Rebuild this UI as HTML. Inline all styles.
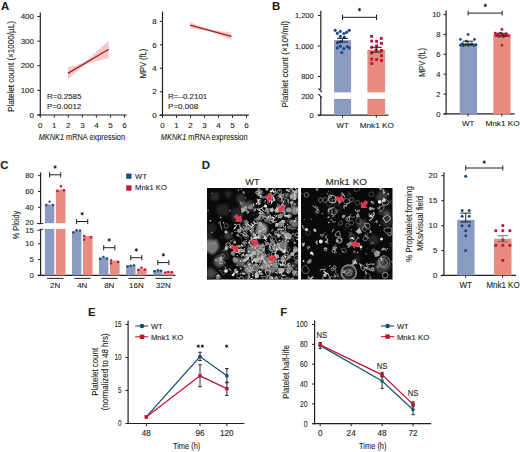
<!DOCTYPE html>
<html><head><meta charset="utf-8"><style>
html,body{margin:0;padding:0;background:#fff;}
body{width:520px;height:452px;overflow:hidden;}
svg{display:block;font-family:"Liberation Sans", sans-serif;}
text{stroke:#2a2a2a;stroke-width:0.12px;}
</style></head><body>
<svg width="520" height="452" viewBox="0 0 520 452">
<rect width="520" height="452" fill="#fff"/>
<text x="0.90" y="9.64" font-size="11.4" text-anchor="start" fill="#231f20" font-weight="bold">A</text>
<line x1="40.30" y1="12.50" x2="40.30" y2="115.45" stroke="#231f20" stroke-width="1.2"/>
<line x1="37.30" y1="115.00" x2="126.80" y2="115.00" stroke="#231f20" stroke-width="1.2"/>
<line x1="37.30" y1="115.00" x2="40.30" y2="115.00" stroke="#231f20" stroke-width="1.0"/>
<text x="34.00" y="117.55" font-size="8.0" text-anchor="end" fill="#231f20">0</text>
<line x1="37.30" y1="90.37" x2="40.30" y2="90.37" stroke="#231f20" stroke-width="1.0"/>
<text x="34.00" y="92.92" font-size="8.0" text-anchor="end" fill="#231f20">100</text>
<line x1="37.30" y1="65.74" x2="40.30" y2="65.74" stroke="#231f20" stroke-width="1.0"/>
<text x="34.00" y="68.29" font-size="8.0" text-anchor="end" fill="#231f20">200</text>
<line x1="37.30" y1="41.11" x2="40.30" y2="41.11" stroke="#231f20" stroke-width="1.0"/>
<text x="34.00" y="43.66" font-size="8.0" text-anchor="end" fill="#231f20">300</text>
<line x1="37.30" y1="16.48" x2="40.30" y2="16.48" stroke="#231f20" stroke-width="1.0"/>
<text x="34.00" y="19.03" font-size="8.0" text-anchor="end" fill="#231f20">400</text>
<line x1="40.30" y1="115.00" x2="40.30" y2="117.60" stroke="#231f20" stroke-width="1.0"/>
<text x="40.30" y="127.50" font-size="8.0" text-anchor="middle" fill="#231f20">0</text>
<line x1="54.32" y1="115.00" x2="54.32" y2="117.60" stroke="#231f20" stroke-width="1.0"/>
<text x="54.32" y="127.50" font-size="8.0" text-anchor="middle" fill="#231f20">1</text>
<line x1="68.34" y1="115.00" x2="68.34" y2="117.60" stroke="#231f20" stroke-width="1.0"/>
<text x="68.34" y="127.50" font-size="8.0" text-anchor="middle" fill="#231f20">2</text>
<line x1="82.36" y1="115.00" x2="82.36" y2="117.60" stroke="#231f20" stroke-width="1.0"/>
<text x="82.36" y="127.50" font-size="8.0" text-anchor="middle" fill="#231f20">3</text>
<line x1="96.38" y1="115.00" x2="96.38" y2="117.60" stroke="#231f20" stroke-width="1.0"/>
<text x="96.38" y="127.50" font-size="8.0" text-anchor="middle" fill="#231f20">4</text>
<line x1="110.40" y1="115.00" x2="110.40" y2="117.60" stroke="#231f20" stroke-width="1.0"/>
<text x="110.40" y="127.50" font-size="8.0" text-anchor="middle" fill="#231f20">5</text>
<line x1="124.42" y1="115.00" x2="124.42" y2="117.60" stroke="#231f20" stroke-width="1.0"/>
<text x="124.42" y="127.50" font-size="8.0" text-anchor="middle" fill="#231f20">6</text>
<path d="M67.90,67.45 L69.60,67.01 L71.30,66.56 L73.00,66.11 L74.70,65.63 L76.40,65.14 L78.10,64.61 L79.80,64.02 L81.50,63.35 L83.20,62.54 L84.90,61.54 L86.60,60.35 L88.30,59.03 L90.00,57.61 L91.70,56.13 L93.40,54.62 L95.10,53.08 L96.80,51.53 L98.50,49.97 L100.20,48.41 L101.90,46.83 L103.60,45.25 L105.30,43.67 L107.00,42.09 L108.70,40.50 L108.70,58.10 L107.00,58.52 L105.30,58.94 L103.60,59.37 L101.90,59.80 L100.20,60.24 L98.50,60.68 L96.80,61.12 L95.10,61.58 L93.40,62.06 L91.70,62.55 L90.00,63.09 L88.30,63.67 L86.60,64.36 L84.90,65.18 L83.20,66.19 L81.50,67.38 L79.80,68.72 L78.10,70.14 L76.40,71.62 L74.70,73.13 L73.00,74.67 L71.30,76.22 L69.60,77.78 L67.90,79.35 Z" fill="#f7c9c6"/>
<line x1="67.90" y1="73.40" x2="108.70" y2="49.30" stroke="#9c1f26" stroke-width="1.3"/>
<text x="46.90" y="98.65" font-size="8.0" text-anchor="start" fill="#231f20" textLength="34.40" lengthAdjust="spacingAndGlyphs">R=0.2585</text>
<text x="46.90" y="108.65" font-size="8.0" text-anchor="start" fill="#231f20" textLength="34.40" lengthAdjust="spacingAndGlyphs">P=0.0012</text>
<text x="38.70" y="140.40" font-size="9.4" text-anchor="start" fill="#231f20" textLength="86.30" lengthAdjust="spacingAndGlyphs"><tspan font-style="italic">MKNK1</tspan> mRNA expression</text>
<text x="13.89" y="66.50" font-size="8.4" text-anchor="middle" fill="#231f20" textLength="91.00" lengthAdjust="spacingAndGlyphs" transform="rotate(-90 13.89 66.50)">Platelet count (×1000/µL)</text>
<line x1="162.50" y1="11.60" x2="162.50" y2="115.65" stroke="#231f20" stroke-width="1.2"/>
<line x1="159.50" y1="115.20" x2="248.80" y2="115.20" stroke="#231f20" stroke-width="1.2"/>
<line x1="159.90" y1="115.20" x2="162.50" y2="115.20" stroke="#231f20" stroke-width="1.0"/>
<text x="156.80" y="117.95" font-size="8.0" text-anchor="end" fill="#231f20">0</text>
<line x1="159.90" y1="91.74" x2="162.50" y2="91.74" stroke="#231f20" stroke-width="1.0"/>
<text x="156.80" y="94.49" font-size="8.0" text-anchor="end" fill="#231f20">2</text>
<line x1="159.90" y1="68.28" x2="162.50" y2="68.28" stroke="#231f20" stroke-width="1.0"/>
<text x="156.80" y="71.03" font-size="8.0" text-anchor="end" fill="#231f20">4</text>
<line x1="159.90" y1="44.82" x2="162.50" y2="44.82" stroke="#231f20" stroke-width="1.0"/>
<text x="156.80" y="47.57" font-size="8.0" text-anchor="end" fill="#231f20">6</text>
<line x1="159.90" y1="21.36" x2="162.50" y2="21.36" stroke="#231f20" stroke-width="1.0"/>
<text x="156.80" y="24.11" font-size="8.0" text-anchor="end" fill="#231f20">8</text>
<line x1="162.50" y1="115.20" x2="162.50" y2="117.80" stroke="#231f20" stroke-width="1.0"/>
<text x="162.50" y="127.50" font-size="8.0" text-anchor="middle" fill="#231f20">0</text>
<line x1="176.50" y1="115.20" x2="176.50" y2="117.80" stroke="#231f20" stroke-width="1.0"/>
<text x="176.50" y="127.50" font-size="8.0" text-anchor="middle" fill="#231f20">1</text>
<line x1="190.50" y1="115.20" x2="190.50" y2="117.80" stroke="#231f20" stroke-width="1.0"/>
<text x="190.50" y="127.50" font-size="8.0" text-anchor="middle" fill="#231f20">2</text>
<line x1="204.50" y1="115.20" x2="204.50" y2="117.80" stroke="#231f20" stroke-width="1.0"/>
<text x="204.50" y="127.50" font-size="8.0" text-anchor="middle" fill="#231f20">3</text>
<line x1="218.50" y1="115.20" x2="218.50" y2="117.80" stroke="#231f20" stroke-width="1.0"/>
<text x="218.50" y="127.50" font-size="8.0" text-anchor="middle" fill="#231f20">4</text>
<line x1="232.50" y1="115.20" x2="232.50" y2="117.80" stroke="#231f20" stroke-width="1.0"/>
<text x="232.50" y="127.50" font-size="8.0" text-anchor="middle" fill="#231f20">5</text>
<line x1="246.50" y1="115.20" x2="246.50" y2="117.80" stroke="#231f20" stroke-width="1.0"/>
<text x="246.50" y="127.50" font-size="8.0" text-anchor="middle" fill="#231f20">6</text>
<path d="M190.10,22.10 L191.82,22.81 L193.54,23.52 L195.26,24.22 L196.98,24.91 L198.70,25.59 L200.43,26.26 L202.15,26.90 L203.87,27.52 L205.59,28.09 L207.31,28.62 L209.03,29.08 L210.75,29.48 L212.47,29.84 L214.19,30.15 L215.91,30.43 L217.63,30.69 L219.35,30.93 L221.07,31.16 L222.80,31.39 L224.52,31.61 L226.24,31.82 L227.96,32.03 L229.68,32.24 L231.40,32.44 L231.40,40.16 L229.68,39.44 L227.96,38.72 L226.24,38.00 L224.52,37.29 L222.80,36.59 L221.07,35.89 L219.35,35.19 L217.63,34.51 L215.91,33.85 L214.19,33.20 L212.47,32.59 L210.75,32.02 L209.03,31.49 L207.31,31.03 L205.59,30.63 L203.87,30.28 L202.15,29.97 L200.43,29.69 L198.70,29.43 L196.98,29.19 L195.26,28.96 L193.54,28.73 L191.82,28.51 L190.10,28.30 Z" fill="#f7c9c6"/>
<line x1="190.10" y1="25.20" x2="231.40" y2="36.30" stroke="#9c1f26" stroke-width="1.3"/>
<text x="168.10" y="98.75" font-size="8.0" text-anchor="start" fill="#231f20" textLength="39.20" lengthAdjust="spacingAndGlyphs">R=–0.2101</text>
<text x="168.10" y="108.65" font-size="8.0" text-anchor="start" fill="#231f20">P=0.008</text>
<text x="160.80" y="140.40" font-size="9.4" text-anchor="start" fill="#231f20" textLength="86.80" lengthAdjust="spacingAndGlyphs"><tspan font-style="italic">MKNK1</tspan> mRNA expression</text>
<text x="146.19" y="63.50" font-size="8.4" text-anchor="middle" fill="#231f20" textLength="29.50" lengthAdjust="spacingAndGlyphs" transform="rotate(-90 146.19 63.50)">MPV (fL)</text>
<text x="271.95" y="9.84" font-size="11.4" text-anchor="start" fill="#231f20" font-weight="bold">B</text>
<line x1="320.80" y1="10.80" x2="320.80" y2="89.60" stroke="#231f20" stroke-width="1.2"/>
<line x1="318.40" y1="88.40" x2="321.90" y2="92.00" stroke="#231f20" stroke-width="1.1"/>
<line x1="318.40" y1="94.20" x2="321.90" y2="97.70" stroke="#231f20" stroke-width="1.1"/>
<line x1="320.80" y1="96.80" x2="320.80" y2="115.50" stroke="#231f20" stroke-width="1.2"/>
<line x1="317.80" y1="115.10" x2="388.50" y2="115.10" stroke="#231f20" stroke-width="1.2"/>
<line x1="317.80" y1="15.50" x2="320.80" y2="15.50" stroke="#231f20" stroke-width="1.0"/>
<text x="313.70" y="18.08" font-size="7.5" text-anchor="end" fill="#231f20">1,200</text>
<line x1="317.80" y1="46.00" x2="320.80" y2="46.00" stroke="#231f20" stroke-width="1.0"/>
<text x="313.70" y="48.58" font-size="7.5" text-anchor="end" fill="#231f20">1,000</text>
<line x1="317.80" y1="76.50" x2="320.80" y2="76.50" stroke="#231f20" stroke-width="1.0"/>
<text x="313.70" y="79.08" font-size="7.5" text-anchor="end" fill="#231f20">800</text>
<text x="313.70" y="99.28" font-size="7.5" text-anchor="end" fill="#231f20">200</text>
<line x1="317.80" y1="115.10" x2="320.80" y2="115.10" stroke="#231f20" stroke-width="1.0"/>
<text x="313.70" y="117.68" font-size="7.5" text-anchor="end" fill="#231f20">0</text>
<rect x="334.10" y="40.10" width="17.00" height="52.30" fill="#8b9ac0"/>
<rect x="334.10" y="98.90" width="17.00" height="16.20" fill="#8b9ac0"/>
<rect x="367.40" y="49.90" width="17.70" height="42.50" fill="#e78c7f"/>
<rect x="367.40" y="98.90" width="17.70" height="16.20" fill="#e78c7f"/>
<line x1="342.50" y1="115.10" x2="342.50" y2="117.70" stroke="#231f20" stroke-width="1.0"/>
<line x1="376.30" y1="115.10" x2="376.30" y2="117.70" stroke="#231f20" stroke-width="1.0"/>
<text x="342.60" y="127.85" font-size="8.0" text-anchor="middle" fill="#231f20" textLength="12.30" lengthAdjust="spacingAndGlyphs">WT</text>
<text x="376.80" y="127.85" font-size="8.0" text-anchor="middle" fill="#231f20" textLength="34.30" lengthAdjust="spacingAndGlyphs">Mnk1 KO</text>
<line x1="342.50" y1="17.30" x2="376.50" y2="17.30" stroke="#231f20" stroke-width="1.0"/>
<line x1="342.50" y1="14.60" x2="342.50" y2="20.00" stroke="#231f20" stroke-width="1.0"/>
<line x1="376.50" y1="14.60" x2="376.50" y2="20.00" stroke="#231f20" stroke-width="1.0"/>
<path d="M359.50,7.85L359.50,11.35M361.02,8.72L357.98,10.47M361.02,10.47L357.98,8.72" stroke="#231f20" stroke-width="0.85" fill="none"/>
<circle cx="359.50" cy="9.60" r="0.9" fill="#231f20"/>
<circle cx="335.20" cy="30.30" r="1.6" fill="#184a86"/>
<circle cx="340.30" cy="31.30" r="1.6" fill="#184a86"/>
<circle cx="337.30" cy="33.30" r="1.6" fill="#184a86"/>
<circle cx="349.20" cy="30.30" r="1.6" fill="#184a86"/>
<circle cx="346.60" cy="32.30" r="1.6" fill="#184a86"/>
<circle cx="343.90" cy="33.60" r="1.6" fill="#184a86"/>
<circle cx="340.30" cy="36.30" r="1.6" fill="#184a86"/>
<circle cx="344.30" cy="37.30" r="1.6" fill="#184a86"/>
<circle cx="337.60" cy="42.90" r="1.6" fill="#184a86"/>
<circle cx="340.60" cy="41.60" r="1.6" fill="#184a86"/>
<circle cx="340.30" cy="46.20" r="1.6" fill="#184a86"/>
<circle cx="337.30" cy="47.90" r="1.6" fill="#184a86"/>
<circle cx="343.90" cy="48.60" r="1.6" fill="#184a86"/>
<circle cx="347.30" cy="46.60" r="1.6" fill="#184a86"/>
<circle cx="349.20" cy="47.90" r="1.6" fill="#184a86"/>
<circle cx="341.90" cy="52.50" r="1.6" fill="#184a86"/>
<line x1="342.50" y1="38.30" x2="342.50" y2="42.00" stroke="#231f20" stroke-width="1.0"/>
<line x1="336.90" y1="38.30" x2="348.10" y2="38.30" stroke="#231f20" stroke-width="1.0"/>
<line x1="336.90" y1="42.00" x2="348.10" y2="42.00" stroke="#231f20" stroke-width="1.0"/>
<rect x="370.15" y="34.95" width="2.90" height="2.90" fill="#c3123d"/>
<rect x="379.85" y="36.95" width="2.90" height="2.90" fill="#c3123d"/>
<rect x="370.25" y="39.65" width="2.90" height="2.90" fill="#c3123d"/>
<rect x="375.15" y="39.85" width="2.90" height="2.90" fill="#c3123d"/>
<rect x="380.05" y="41.85" width="2.90" height="2.90" fill="#c3123d"/>
<rect x="375.15" y="44.45" width="2.90" height="2.90" fill="#c3123d"/>
<rect x="370.25" y="45.85" width="2.90" height="2.90" fill="#c3123d"/>
<rect x="374.75" y="48.45" width="2.90" height="2.90" fill="#c3123d"/>
<rect x="380.05" y="48.95" width="2.90" height="2.90" fill="#c3123d"/>
<rect x="370.25" y="51.55" width="2.90" height="2.90" fill="#c3123d"/>
<rect x="380.05" y="54.25" width="2.90" height="2.90" fill="#c3123d"/>
<rect x="370.25" y="57.75" width="2.90" height="2.90" fill="#c3123d"/>
<rect x="375.15" y="58.15" width="2.90" height="2.90" fill="#c3123d"/>
<rect x="380.05" y="59.05" width="2.90" height="2.90" fill="#c3123d"/>
<rect x="370.25" y="62.05" width="2.90" height="2.90" fill="#c3123d"/>
<line x1="376.30" y1="47.30" x2="376.30" y2="52.10" stroke="#231f20" stroke-width="1.0"/>
<line x1="370.70" y1="47.30" x2="381.90" y2="47.30" stroke="#231f20" stroke-width="1.0"/>
<line x1="370.70" y1="52.10" x2="381.90" y2="52.10" stroke="#231f20" stroke-width="1.0"/>
<text x="288.49" y="64.30" font-size="8.4" text-anchor="middle" fill="#231f20" textLength="86.60" lengthAdjust="spacingAndGlyphs" transform="rotate(-90 288.49 64.30)">Platelet count (×10<tspan dy="-2.8" font-size="5.6">8</tspan><tspan dy="2.8">/ml)</tspan></text>
<line x1="446.10" y1="10.60" x2="446.10" y2="114.35" stroke="#231f20" stroke-width="1.2"/>
<line x1="443.60" y1="113.90" x2="514.60" y2="113.90" stroke="#231f20" stroke-width="1.2"/>
<line x1="443.50" y1="113.90" x2="446.10" y2="113.90" stroke="#231f20" stroke-width="1.0"/>
<text x="440.60" y="116.51" font-size="7.6" text-anchor="end" fill="#231f20">0</text>
<line x1="443.50" y1="94.04" x2="446.10" y2="94.04" stroke="#231f20" stroke-width="1.0"/>
<text x="440.60" y="96.65" font-size="7.6" text-anchor="end" fill="#231f20">2</text>
<line x1="443.50" y1="74.18" x2="446.10" y2="74.18" stroke="#231f20" stroke-width="1.0"/>
<text x="440.60" y="76.79" font-size="7.6" text-anchor="end" fill="#231f20">4</text>
<line x1="443.50" y1="54.32" x2="446.10" y2="54.32" stroke="#231f20" stroke-width="1.0"/>
<text x="440.60" y="56.93" font-size="7.6" text-anchor="end" fill="#231f20">6</text>
<line x1="443.50" y1="34.46" x2="446.10" y2="34.46" stroke="#231f20" stroke-width="1.0"/>
<text x="440.60" y="37.07" font-size="7.6" text-anchor="end" fill="#231f20">8</text>
<line x1="443.50" y1="14.60" x2="446.10" y2="14.60" stroke="#231f20" stroke-width="1.0"/>
<text x="440.60" y="17.21" font-size="7.6" text-anchor="end" fill="#231f20">10</text>
<rect x="459.70" y="43.00" width="17.30" height="70.90" fill="#8b9ac0"/>
<rect x="493.30" y="34.00" width="17.30" height="79.90" fill="#e78c7f"/>
<line x1="468.10" y1="113.90" x2="468.10" y2="116.50" stroke="#231f20" stroke-width="1.0"/>
<line x1="501.80" y1="113.90" x2="501.80" y2="116.50" stroke="#231f20" stroke-width="1.0"/>
<text x="468.10" y="126.45" font-size="8.0" text-anchor="middle" fill="#231f20" textLength="12.30" lengthAdjust="spacingAndGlyphs">WT</text>
<text x="502.60" y="126.45" font-size="8.0" text-anchor="middle" fill="#231f20" textLength="34.30" lengthAdjust="spacingAndGlyphs">Mnk1 KO</text>
<line x1="468.20" y1="13.10" x2="502.20" y2="13.10" stroke="#231f20" stroke-width="1.0"/>
<line x1="468.20" y1="10.70" x2="468.20" y2="15.50" stroke="#231f20" stroke-width="1.0"/>
<line x1="502.20" y1="10.70" x2="502.20" y2="15.50" stroke="#231f20" stroke-width="1.0"/>
<path d="M485.30,3.65L485.30,7.15M486.82,4.52L483.78,6.28M486.82,6.28L483.78,4.53" stroke="#231f20" stroke-width="0.85" fill="none"/>
<circle cx="485.30" cy="5.40" r="0.9" fill="#231f20"/>
<circle cx="468.10" cy="34.50" r="1.4" fill="#184a86"/>
<circle cx="460.40" cy="39.40" r="1.4" fill="#184a86"/>
<circle cx="474.50" cy="39.40" r="1.4" fill="#184a86"/>
<circle cx="466.40" cy="41.20" r="1.4" fill="#184a86"/>
<circle cx="460.60" cy="45.20" r="1.4" fill="#184a86"/>
<circle cx="463.20" cy="45.80" r="1.4" fill="#184a86"/>
<circle cx="465.80" cy="44.90" r="1.4" fill="#184a86"/>
<circle cx="468.40" cy="45.60" r="1.4" fill="#184a86"/>
<circle cx="471.00" cy="44.80" r="1.4" fill="#184a86"/>
<circle cx="473.60" cy="45.50" r="1.4" fill="#184a86"/>
<circle cx="476.00" cy="44.90" r="1.4" fill="#184a86"/>
<circle cx="462.50" cy="43.60" r="1.4" fill="#184a86"/>
<circle cx="471.50" cy="43.80" r="1.4" fill="#184a86"/>
<line x1="468.10" y1="41.20" x2="468.10" y2="44.50" stroke="#231f20" stroke-width="1.0"/>
<line x1="462.80" y1="41.20" x2="473.40" y2="41.20" stroke="#231f20" stroke-width="1.0"/>
<line x1="462.80" y1="44.50" x2="473.40" y2="44.50" stroke="#231f20" stroke-width="1.0"/>
<rect x="500.65" y="28.15" width="2.50" height="2.50" fill="#c3123d"/>
<rect x="493.95" y="31.85" width="2.50" height="2.50" fill="#c3123d"/>
<rect x="496.55" y="33.35" width="2.50" height="2.50" fill="#c3123d"/>
<rect x="499.25" y="31.95" width="2.50" height="2.50" fill="#c3123d"/>
<rect x="501.75" y="33.55" width="2.50" height="2.50" fill="#c3123d"/>
<rect x="504.35" y="34.15" width="2.50" height="2.50" fill="#c3123d"/>
<rect x="507.05" y="34.65" width="2.50" height="2.50" fill="#c3123d"/>
<rect x="498.25" y="35.15" width="2.50" height="2.50" fill="#c3123d"/>
<rect x="494.55" y="34.35" width="2.50" height="2.50" fill="#c3123d"/>
<rect x="502.25" y="35.55" width="2.50" height="2.50" fill="#c3123d"/>
<rect x="505.25" y="32.75" width="2.50" height="2.50" fill="#c3123d"/>
<rect x="500.65" y="43.95" width="2.50" height="2.50" fill="#c3123d"/>
<line x1="501.80" y1="33.20" x2="501.80" y2="36.00" stroke="#231f20" stroke-width="1.0"/>
<line x1="496.50" y1="33.20" x2="507.10" y2="33.20" stroke="#231f20" stroke-width="1.0"/>
<line x1="496.50" y1="36.00" x2="507.10" y2="36.00" stroke="#231f20" stroke-width="1.0"/>
<text x="424.89" y="62.40" font-size="8.4" text-anchor="middle" fill="#231f20" textLength="28.50" lengthAdjust="spacingAndGlyphs" transform="rotate(-90 424.89 62.40)">MPV (fL)</text>
<text x="0.30" y="168.84" font-size="11.4" text-anchor="start" fill="#231f20" font-weight="bold">C</text>
<line x1="40.60" y1="172.50" x2="40.60" y2="223.60" stroke="#231f20" stroke-width="1.2"/>
<line x1="36.90" y1="223.60" x2="43.10" y2="223.60" stroke="#231f20" stroke-width="1.0"/>
<line x1="37.30" y1="230.50" x2="43.10" y2="229.10" stroke="#231f20" stroke-width="1.0"/>
<line x1="40.60" y1="229.60" x2="40.60" y2="275.80" stroke="#231f20" stroke-width="1.2"/>
<line x1="37.60" y1="275.40" x2="175.40" y2="275.40" stroke="#231f20" stroke-width="1.2"/>
<text x="33.80" y="224.71" font-size="7.6" text-anchor="end" fill="#231f20">20</text>
<line x1="38.00" y1="207.35" x2="40.60" y2="207.35" stroke="#231f20" stroke-width="1.0"/>
<text x="33.80" y="209.96" font-size="7.6" text-anchor="end" fill="#231f20">40</text>
<line x1="38.00" y1="191.50" x2="40.60" y2="191.50" stroke="#231f20" stroke-width="1.0"/>
<text x="33.80" y="194.11" font-size="7.6" text-anchor="end" fill="#231f20">60</text>
<line x1="38.00" y1="175.65" x2="40.60" y2="175.65" stroke="#231f20" stroke-width="1.0"/>
<text x="33.80" y="178.26" font-size="7.6" text-anchor="end" fill="#231f20">80</text>
<line x1="38.00" y1="275.40" x2="40.60" y2="275.40" stroke="#231f20" stroke-width="1.0"/>
<text x="33.80" y="278.01" font-size="7.6" text-anchor="end" fill="#231f20">0</text>
<line x1="38.00" y1="259.60" x2="40.60" y2="259.60" stroke="#231f20" stroke-width="1.0"/>
<text x="33.80" y="262.21" font-size="7.6" text-anchor="end" fill="#231f20">5</text>
<line x1="38.00" y1="243.80" x2="40.60" y2="243.80" stroke="#231f20" stroke-width="1.0"/>
<text x="33.80" y="246.41" font-size="7.6" text-anchor="end" fill="#231f20">10</text>
<text x="33.80" y="233.41" font-size="7.6" text-anchor="end" fill="#231f20">15</text>
<rect x="44.90" y="204.30" width="9.40" height="18.90" fill="#8b9ac0"/>
<rect x="44.90" y="228.90" width="9.40" height="46.50" fill="#8b9ac0"/>
<rect x="55.90" y="189.50" width="9.60" height="33.70" fill="#e78c7f"/>
<rect x="55.90" y="228.90" width="9.60" height="46.50" fill="#e78c7f"/>
<circle cx="49.60" cy="201.60" r="1.2" fill="#184a86"/>
<circle cx="46.30" cy="205.00" r="1.2" fill="#184a86"/>
<circle cx="53.00" cy="204.90" r="1.2" fill="#184a86"/>
<rect x="59.80" y="185.20" width="2.20" height="2.20" fill="#c3123d"/>
<rect x="56.30" y="189.90" width="2.20" height="2.20" fill="#c3123d"/>
<rect x="62.80" y="189.10" width="2.20" height="2.20" fill="#c3123d"/>
<line x1="49.60" y1="174.80" x2="60.70" y2="174.80" stroke="#231f20" stroke-width="1.0"/>
<line x1="49.60" y1="172.20" x2="49.60" y2="177.40" stroke="#231f20" stroke-width="1.0"/>
<line x1="60.70" y1="172.20" x2="60.70" y2="177.40" stroke="#231f20" stroke-width="1.0"/>
<path d="M55.15,165.25L55.15,168.75M56.67,166.12L53.63,167.88M56.67,167.88L53.63,166.12" stroke="#231f20" stroke-width="0.85" fill="none"/>
<circle cx="55.15" cy="167.00" r="0.9" fill="#231f20"/>
<line x1="47.20" y1="278.40" x2="63.50" y2="278.40" stroke="#231f20" stroke-width="1.0"/>
<text x="55.20" y="288.05" font-size="8.0" text-anchor="middle" fill="#231f20">2N</text>
<rect x="71.95" y="230.90" width="9.40" height="44.50" fill="#8b9ac0"/>
<rect x="82.95" y="236.00" width="9.60" height="39.40" fill="#e78c7f"/>
<circle cx="73.30" cy="232.60" r="1.2" fill="#184a86"/>
<circle cx="76.60" cy="230.30" r="1.2" fill="#184a86"/>
<circle cx="80.00" cy="230.50" r="1.2" fill="#184a86"/>
<rect x="83.10" y="234.80" width="2.20" height="2.20" fill="#c3123d"/>
<rect x="83.10" y="238.50" width="2.20" height="2.20" fill="#c3123d"/>
<rect x="89.90" y="236.20" width="2.20" height="2.20" fill="#c3123d"/>
<line x1="76.65" y1="221.50" x2="87.75" y2="221.50" stroke="#231f20" stroke-width="1.0"/>
<line x1="76.65" y1="218.90" x2="76.65" y2="224.10" stroke="#231f20" stroke-width="1.0"/>
<line x1="87.75" y1="218.90" x2="87.75" y2="224.10" stroke="#231f20" stroke-width="1.0"/>
<path d="M82.20,211.95L82.20,215.45M83.72,212.82L80.68,214.57M83.72,214.57L80.68,212.82" stroke="#231f20" stroke-width="0.85" fill="none"/>
<circle cx="82.20" cy="213.70" r="0.9" fill="#231f20"/>
<line x1="74.25" y1="278.40" x2="90.55" y2="278.40" stroke="#231f20" stroke-width="1.0"/>
<text x="82.25" y="288.05" font-size="8.0" text-anchor="middle" fill="#231f20">4N</text>
<rect x="99.00" y="257.50" width="9.40" height="17.90" fill="#8b9ac0"/>
<rect x="110.00" y="260.60" width="9.60" height="14.80" fill="#e78c7f"/>
<circle cx="100.00" cy="259.00" r="1.2" fill="#184a86"/>
<circle cx="103.50" cy="256.90" r="1.2" fill="#184a86"/>
<circle cx="106.80" cy="258.40" r="1.2" fill="#184a86"/>
<rect x="109.90" y="259.30" width="2.20" height="2.20" fill="#c3123d"/>
<rect x="109.90" y="262.30" width="2.20" height="2.20" fill="#c3123d"/>
<rect x="116.90" y="260.90" width="2.20" height="2.20" fill="#c3123d"/>
<line x1="103.70" y1="247.70" x2="114.80" y2="247.70" stroke="#231f20" stroke-width="1.0"/>
<line x1="103.70" y1="245.10" x2="103.70" y2="250.30" stroke="#231f20" stroke-width="1.0"/>
<line x1="114.80" y1="245.10" x2="114.80" y2="250.30" stroke="#231f20" stroke-width="1.0"/>
<path d="M109.25,238.15L109.25,241.65M110.77,239.02L107.73,240.77M110.77,240.77L107.73,239.02" stroke="#231f20" stroke-width="0.85" fill="none"/>
<circle cx="109.25" cy="239.90" r="0.9" fill="#231f20"/>
<line x1="101.30" y1="278.40" x2="117.60" y2="278.40" stroke="#231f20" stroke-width="1.0"/>
<text x="109.30" y="288.05" font-size="8.0" text-anchor="middle" fill="#231f20">8N</text>
<rect x="126.05" y="265.40" width="9.40" height="10.00" fill="#8b9ac0"/>
<rect x="137.05" y="268.60" width="9.60" height="6.80" fill="#e78c7f"/>
<circle cx="127.50" cy="266.50" r="1.2" fill="#184a86"/>
<circle cx="130.70" cy="265.80" r="1.2" fill="#184a86"/>
<circle cx="134.00" cy="265.30" r="1.2" fill="#184a86"/>
<rect x="137.20" y="268.90" width="2.20" height="2.20" fill="#c3123d"/>
<rect x="140.40" y="266.50" width="2.20" height="2.20" fill="#c3123d"/>
<rect x="143.90" y="268.50" width="2.20" height="2.20" fill="#c3123d"/>
<line x1="130.75" y1="257.70" x2="141.85" y2="257.70" stroke="#231f20" stroke-width="1.0"/>
<line x1="130.75" y1="255.10" x2="130.75" y2="260.30" stroke="#231f20" stroke-width="1.0"/>
<line x1="141.85" y1="255.10" x2="141.85" y2="260.30" stroke="#231f20" stroke-width="1.0"/>
<path d="M136.30,248.15L136.30,251.65M137.82,249.02L134.78,250.77M137.82,250.77L134.78,249.02" stroke="#231f20" stroke-width="0.85" fill="none"/>
<circle cx="136.30" cy="249.90" r="0.9" fill="#231f20"/>
<line x1="128.35" y1="278.40" x2="144.65" y2="278.40" stroke="#231f20" stroke-width="1.0"/>
<text x="136.35" y="288.05" font-size="8.0" text-anchor="middle" fill="#231f20">16N</text>
<rect x="153.10" y="270.20" width="9.40" height="5.20" fill="#8b9ac0"/>
<rect x="164.10" y="271.70" width="9.60" height="3.70" fill="#e78c7f"/>
<circle cx="154.50" cy="271.20" r="1.2" fill="#184a86"/>
<circle cx="158.00" cy="270.20" r="1.2" fill="#184a86"/>
<circle cx="161.00" cy="270.80" r="1.2" fill="#184a86"/>
<rect x="163.90" y="271.50" width="2.20" height="2.20" fill="#c3123d"/>
<rect x="167.10" y="270.80" width="2.20" height="2.20" fill="#c3123d"/>
<rect x="170.50" y="271.00" width="2.20" height="2.20" fill="#c3123d"/>
<line x1="157.80" y1="262.60" x2="168.90" y2="262.60" stroke="#231f20" stroke-width="1.0"/>
<line x1="157.80" y1="260.00" x2="157.80" y2="265.20" stroke="#231f20" stroke-width="1.0"/>
<line x1="168.90" y1="260.00" x2="168.90" y2="265.20" stroke="#231f20" stroke-width="1.0"/>
<path d="M163.35,253.05L163.35,256.55M164.87,253.93L161.83,255.68M164.87,255.68L161.83,253.93" stroke="#231f20" stroke-width="0.85" fill="none"/>
<circle cx="163.35" cy="254.80" r="0.9" fill="#231f20"/>
<line x1="155.40" y1="278.40" x2="171.70" y2="278.40" stroke="#231f20" stroke-width="1.0"/>
<text x="163.40" y="288.05" font-size="8.0" text-anchor="middle" fill="#231f20">32N</text>
<rect x="126.20" y="173.50" width="5.30" height="5.30" fill="#1c4a7e"/>
<rect x="126.20" y="185.40" width="5.30" height="5.30" fill="#c8143c"/>
<text x="135.10" y="178.81" font-size="7.6" text-anchor="start" fill="#231f20">WT</text>
<text x="135.10" y="190.31" font-size="7.6" text-anchor="start" fill="#231f20" textLength="31.80" lengthAdjust="spacingAndGlyphs">Mnk1 KO</text>
<text x="18.73" y="225.00" font-size="8.8" text-anchor="middle" fill="#231f20" textLength="28.30" lengthAdjust="spacingAndGlyphs" transform="rotate(-90 18.73 225.00)">% Ploidy</text>
<text x="201.85" y="168.74" font-size="11.4" text-anchor="start" fill="#231f20" font-weight="bold">D</text>
<text x="252.50" y="184.86" font-size="9.2" text-anchor="middle" fill="#231f20" textLength="14.40" lengthAdjust="spacingAndGlyphs">WT</text>
<text x="346.30" y="184.96" font-size="9.2" text-anchor="middle" fill="#231f20" textLength="41.40" lengthAdjust="spacingAndGlyphs">Mnk1 KO</text>
<defs><filter id="bl0" x="-5%" y="-5%" width="110%" height="110%"><feGaussianBlur stdDeviation="1.1"/></filter><filter id="bl1" x="-5%" y="-5%" width="110%" height="110%"><feGaussianBlur stdDeviation="0.55"/></filter><filter id="bl2" x="-5%" y="-5%" width="110%" height="110%"><feGaussianBlur stdDeviation="0.3"/></filter><clipPath id="cp1"><rect x="207.0" y="188.0" width="91.1" height="91.5"/></clipPath><clipPath id="cp2"><rect x="301.0" y="188.0" width="91.5" height="91.5"/></clipPath></defs><rect x="207.0" y="188.0" width="91.1" height="91.5" fill="#0b0a0a"/><g clip-path="url(#cp1)"><g filter="url(#bl0)"><polygon points="207.7,242.2 205.2,240.2 202.2,236.4 204.3,233.3 207.6,231.5 208.5,231.3 211.9,233.4 213.5,235.3 212.2,239.1 210.9,242.0" fill="rgb(33,33,33)"/><polygon points="219.8,205.7 222.6,204.4 226.5,203.8 229.3,207.8 229.3,212.7 227.0,215.9 221.8,214.9 217.3,210.2" fill="rgb(42,42,42)"/><polygon points="291.6,268.5 290.9,265.7 291.1,263.3 293.0,262.2 295.1,262.1 296.8,264.1 298.3,266.3 296.3,268.7 294.7,269.2" fill="rgb(49,49,49)"/><polygon points="291.7,223.8 293.4,221.4 298.6,220.7 301.5,223.3 301.2,227.4 297.1,228.7 292.5,227.7" fill="rgb(37,37,37)"/><polygon points="219.0,255.7 219.2,252.2 223.3,248.9 225.1,250.0 229.0,250.4 229.2,254.2 229.9,258.3 226.9,259.0 221.1,260.4 220.6,259.1" fill="rgb(35,35,35)"/><polygon points="232.8,211.0 237.1,207.8 239.3,210.4 242.4,210.5 243.7,214.6 240.9,219.4 237.0,220.3 235.2,221.0 231.7,219.6 231.5,215.0" fill="rgb(46,46,46)"/><polygon points="217.7,243.5 216.1,243.9 214.4,244.8 212.6,243.5 212.1,240.7 212.6,240.1 214.8,238.1 217.0,238.7 217.8,240.4 218.5,242.1" fill="rgb(41,41,41)"/><polygon points="288.7,207.5 285.7,208.3 283.7,208.4 281.7,206.0 282.0,204.1 282.7,202.2 286.1,200.8 287.9,201.9 290.3,203.7 289.4,206.3" fill="rgb(37,37,37)"/><polygon points="259.7,231.7 255.7,226.8 258.8,223.0 263.5,222.0 266.8,224.8 268.0,228.5 264.2,231.1" fill="rgb(35,35,35)"/><polygon points="215.8,274.2 214.8,276.4 213.2,279.6 210.1,281.1 207.4,280.5 206.3,277.5 205.3,274.9 208.6,272.2 211.3,270.5 213.4,272.0" fill="rgb(43,43,43)"/><polygon points="209.7,197.4 211.2,195.6 213.2,192.8 217.7,192.3 219.6,194.7 219.1,198.1 217.8,200.3 214.1,201.0 211.8,199.7" fill="rgb(42,42,42)"/><polygon points="226.2,190.6 229.5,191.1 231.3,190.7 231.3,194.4 230.3,198.1 228.9,197.8 226.3,197.3 224.6,194.6 225.2,192.2" fill="rgb(38,38,38)"/><polygon points="242.6,203.5 240.2,204.1 237.3,202.0 235.7,200.1 237.6,194.1 240.7,194.3 243.5,194.2 245.1,198.0 245.6,200.1" fill="rgb(48,48,48)"/><polygon points="216.2,208.7 216.2,206.6 221.2,204.0 224.6,204.8 228.3,207.8 228.0,211.3 225.7,215.3 221.9,215.5 217.2,214.1" fill="rgb(35,35,35)"/><polygon points="240.2,213.3 239.0,215.9 234.2,216.6 232.2,214.0 231.4,211.1 231.2,209.3 236.0,208.0 238.1,206.9 240.0,210.0" fill="rgb(40,40,40)"/><polygon points="255.2,205.1 253.3,211.0 250.5,210.0 247.4,210.9 244.8,206.7 245.1,204.7 247.6,201.3 250.6,200.1 253.9,204.1" fill="rgb(60,60,60)"/><polygon points="210.0,232.1 207.4,229.9 206.7,227.0 208.3,225.3 210.9,222.8 214.8,224.8 216.8,227.7 216.6,229.5 213.0,233.0" fill="rgb(34,34,34)"/><polygon points="207.5,240.1 212.3,240.2 216.9,240.5 219.2,246.1 218.2,249.3 214.3,253.8 211.9,254.6 204.8,250.1 204.2,244.7" fill="rgb(120,120,120)"/><polygon points="213.7,260.0 214.7,258.3 218.6,255.0 223.5,257.9 224.1,261.6 224.4,265.6 220.9,267.0 217.1,267.2 214.2,263.9" fill="rgb(85,85,85)"/><polygon points="215.8,274.5 211.9,277.2 208.3,275.9 207.2,275.3 206.7,271.2 208.5,268.1 210.6,267.4 214.3,269.7 215.5,271.1" fill="rgb(70,70,70)"/><polygon points="229.2,239.3 225.7,239.3 224.8,237.3 223.9,235.2 226.3,232.8 228.1,231.4 230.8,233.8 232.4,235.5 231.7,238.1" fill="rgb(60,60,60)"/><polygon points="260.1,223.2 263.3,223.5 266.6,225.8 267.7,228.9 266.3,231.8 264.0,234.8 260.2,233.6 256.6,230.2 256.7,225.8" fill="rgb(150,150,150)"/><polygon points="240.0,208.3 240.6,206.3 240.7,202.8 243.5,201.6 245.9,202.3 247.4,204.3 247.7,207.1 246.4,209.8 244.0,209.5" fill="rgb(95,95,95)"/><polygon points="292.9,199.9 291.8,200.0 289.5,195.8 290.1,194.0 292.6,192.9 296.4,192.2 297.7,193.2 297.7,195.9 296.7,198.1" fill="rgb(165,165,165)"/><polygon points="296.6,213.3 295.0,213.5 291.9,213.3 291.6,209.9 292.1,207.2 294.1,206.1 297.4,206.2 298.9,208.5 299.0,211.3" fill="rgb(150,150,150)"/><polygon points="291.4,226.4 290.8,223.7 291.9,221.3 294.0,220.2 296.6,221.2 297.1,222.7 297.6,225.5 295.0,226.8 294.1,226.9" fill="rgb(120,120,120)"/><polygon points="260.4,251.7 257.7,255.3 251.8,256.6 247.0,252.3 247.1,247.5 250.0,246.3 256.5,243.2 259.1,243.4 262.0,248.5" fill="rgb(120,120,120)"/><polygon points="268.1,271.4 261.3,268.7 262.2,260.9 266.9,258.1 269.7,255.7 276.2,259.1 276.7,262.5 277.3,269.8 271.1,273.8" fill="rgb(125,125,125)"/><polygon points="246.7,274.0 244.0,268.4 243.9,266.5 247.4,262.9 250.4,262.3 254.2,265.1 257.1,268.4 253.5,272.1 250.9,273.0" fill="rgb(110,110,110)"/><polygon points="282.9,240.7 286.1,240.8 287.6,244.0 287.4,246.6 283.9,249.6 281.7,249.7 279.6,248.3 278.4,245.3 279.5,241.9" fill="rgb(110,110,110)"/><polygon points="244.1,259.8 244.4,263.8 242.8,266.5 240.4,267.3 237.4,265.6 234.1,261.3 236.8,259.1 238.9,257.6 242.7,258.4" fill="rgb(100,100,100)"/></g><g filter="url(#bl1)"><polygon points="260.4,232.9 258.7,235.1 255.5,232.9 258.9,230.6" fill="rgb(163,163,163)"/><polygon points="293.8,276.4 291.9,272.6 292.9,270.1 297.9,270.8 296.3,273.6" fill="rgb(149,149,149)"/><polygon points="278.0,268.0 281.6,267.9 285.1,268.6 284.1,271.2 282.3,273.2 278.5,273.0" fill="rgb(173,173,173)"/><polygon points="270.0,219.3 267.8,219.8 266.9,217.2 268.1,216.1 269.6,215.0 271.2,216.6 271.2,217.8" fill="rgb(113,113,113)"/><polygon points="265.1,238.0 263.4,236.4 264.3,234.3 266.2,235.7 266.9,237.1" fill="rgb(94,94,94)"/><polygon points="262.0,269.6 260.1,268.2 260.8,265.2 262.8,264.2 265.0,264.8 265.6,268.2" fill="rgb(141,141,141)"/><polygon points="274.4,260.4 275.8,260.7 276.4,263.1 275.1,265.0 273.1,263.6 272.7,261.6" fill="rgb(89,89,89)"/><polygon points="244.0,259.4 244.9,259.0 246.2,259.6 246.8,260.4 246.1,261.7 245.3,261.6 244.5,261.0" fill="rgb(128,128,128)"/><polygon points="245.0,249.9 245.3,251.2 244.3,252.2 242.8,251.9 242.1,250.7 243.0,249.3 243.9,249.6" fill="rgb(178,178,178)"/><polygon points="296.8,196.9 295.8,200.0 293.5,200.0 293.8,197.0" fill="rgb(182,182,182)"/><polygon points="275.1,235.0 274.7,233.3 276.6,232.8 277.5,235.1" fill="rgb(124,124,124)"/><polygon points="259.3,198.9 261.0,200.9 260.5,203.8 257.1,202.7 257.5,200.4" fill="rgb(99,99,99)"/><polygon points="290.0,196.8 290.5,195.1 292.1,195.1 294.3,196.7 291.9,198.1 290.1,199.1" fill="rgb(169,169,169)"/><polygon points="246.3,243.9 245.1,243.3 245.3,242.4 246.1,242.0 247.5,242.2 247.0,243.8" fill="rgb(130,130,130)"/><polygon points="271.2,266.9 269.7,266.8 269.5,265.3 269.9,264.2 271.5,264.0 273.0,264.5 272.1,266.1" fill="rgb(180,180,180)"/><polygon points="246.6,258.6 246.5,254.1 250.0,253.5 250.1,257.1" fill="rgb(179,179,179)"/><polygon points="269.5,266.1 271.5,264.8 272.4,266.7 272.2,268.3 270.5,267.8" fill="rgb(86,86,86)"/><polygon points="243.9,244.8 241.7,243.1 243.1,241.3 245.6,240.2 245.4,243.9" fill="rgb(124,124,124)"/><polygon points="293.9,262.7 295.8,260.0 298.0,260.1 297.5,263.9" fill="rgb(109,109,109)"/><polygon points="277.5,222.8 279.1,223.9 278.5,226.0 277.7,226.8 275.2,226.7 274.8,225.4 275.3,224.0" fill="rgb(147,147,147)"/><polygon points="267.7,220.4 266.7,219.6 266.7,218.8 267.5,217.6 268.1,217.8 269.7,218.7 269.1,220.1" fill="rgb(138,138,138)"/><polygon points="256.7,236.3 258.6,235.1 259.6,235.2 261.3,236.3 260.7,238.8 259.1,239.3 256.9,237.4" fill="rgb(159,159,159)"/><polygon points="276.3,275.9 277.7,277.4 276.1,278.8 274.3,277.6" fill="rgb(172,172,172)"/><polygon points="262.0,258.4 259.9,256.1 261.2,253.7 263.3,253.1 265.5,254.1 265.1,255.4 264.9,258.1" fill="rgb(140,140,140)"/><polygon points="242.5,191.6 243.7,190.7 245.0,192.3 244.7,193.4 243.5,193.9 242.3,193.1" fill="rgb(123,123,123)"/><polygon points="288.9,239.2 288.1,238.2 288.8,237.0 290.4,237.5 290.8,238.7 289.8,239.4" fill="rgb(193,193,193)"/><polygon points="262.5,261.7 264.9,260.7 267.2,260.4 266.8,263.9 264.7,263.4" fill="rgb(165,165,165)"/><polygon points="262.0,260.6 258.7,257.6 260.8,254.9 264.3,256.2" fill="rgb(160,160,160)"/><polygon points="290.3,203.5 289.7,201.7 291.4,201.3 293.0,201.1 294.0,202.6 292.5,204.0 291.3,205.4" fill="rgb(166,166,166)"/><polygon points="257.3,242.4 257.0,244.2 254.8,244.2 253.1,243.4 253.1,241.4 254.7,240.9 255.9,241.9" fill="rgb(180,180,180)"/><polygon points="230.7,253.5 231.3,251.6 234.9,250.8 234.7,253.5 234.2,256.4 231.5,254.8" fill="rgb(139,139,139)"/><polygon points="208.4,209.2 209.2,210.5 207.9,212.0 207.4,210.0" fill="rgb(104,104,104)"/><polygon points="290.5,254.5 290.9,256.8 289.2,258.7 288.0,258.6 287.5,256.7 287.4,255.4 289.0,254.8" fill="rgb(151,151,151)"/><polygon points="296.9,271.7 299.1,273.5 298.5,276.3 295.5,276.0 295.3,274.1" fill="rgb(107,107,107)"/><polygon points="289.4,225.5 291.6,226.1 291.2,228.7 289.6,229.2 287.3,228.8 287.3,225.8" fill="rgb(97,97,97)"/><polygon points="297.0,209.5 296.8,211.1 295.6,211.7 294.2,211.0 294.7,209.5 296.1,208.7" fill="rgb(114,114,114)"/><polygon points="291.0,252.2 294.9,252.1 293.8,256.1 289.8,255.8" fill="rgb(178,178,178)"/><polygon points="242.6,260.4 244.4,257.8 247.8,258.5 245.4,262.1" fill="rgb(181,181,181)"/><polygon points="276.1,245.8 276.8,242.8 280.9,242.8 281.1,247.3 278.2,248.3" fill="rgb(156,156,156)"/><polygon points="263.1,246.9 259.9,247.8 259.3,244.7 261.6,244.1" fill="rgb(128,128,128)"/><polygon points="293.4,269.2 289.9,271.8 286.9,268.0 290.5,265.0" fill="rgb(132,132,132)"/><polygon points="265.3,196.2 265.1,197.3 264.3,198.8 262.9,199.0 262.3,197.3 263.0,196.0" fill="rgb(99,99,99)"/><polygon points="256.7,246.8 256.3,246.0 256.1,244.9 257.6,244.5 258.2,245.7 257.7,246.6" fill="rgb(191,191,191)"/><polygon points="249.1,205.1 250.3,204.5 252.6,205.4 253.2,207.5 251.4,209.0 249.5,209.0 247.7,207.7" fill="rgb(144,144,144)"/><polygon points="273.3,266.3 273.0,262.4 277.4,262.4 277.6,267.2" fill="rgb(146,146,146)"/><polygon points="275.8,208.7 276.1,206.6 278.1,206.6 278.0,208.5" fill="rgb(134,134,134)"/><polygon points="267.2,279.4 265.2,279.1 266.2,277.7 267.9,277.5" fill="rgb(142,142,142)"/><polygon points="255.8,257.4 255.7,254.7 258.8,253.9 258.8,258.4" fill="rgb(108,108,108)"/><polygon points="244.9,224.3 244.3,220.8 246.4,219.6 249.1,222.7" fill="rgb(131,131,131)"/><polygon points="288.5,196.4 287.1,197.5 285.5,196.7 284.5,195.3 285.2,193.2 288.3,192.8 288.6,194.4" fill="rgb(100,100,100)"/><polygon points="257.4,231.3 260.0,230.7 259.6,233.5 256.7,234.1" fill="rgb(175,175,175)"/><polygon points="232.9,259.3 233.7,257.6 235.4,258.2 234.5,260.0" fill="rgb(97,97,97)"/><polygon points="225.3,245.5 228.5,248.1 226.7,250.6 224.4,249.4" fill="rgb(189,189,189)"/><polygon points="271.8,222.1 272.0,220.3 273.9,220.3 274.5,221.4 273.7,222.5 272.6,222.6" fill="rgb(149,149,149)"/><polygon points="272.4,238.8 273.4,240.2 272.6,241.5 270.8,241.8 269.8,240.5 270.9,239.2" fill="rgb(138,138,138)"/><polygon points="280.0,213.8 282.1,213.6 282.8,216.8 280.6,218.5 277.5,217.8 278.2,214.5" fill="rgb(138,138,138)"/><polygon points="255.7,263.4 257.7,264.2 257.2,265.9 254.8,265.2" fill="rgb(191,191,191)"/><polygon points="267.4,262.6 266.4,263.6 265.0,262.1 264.8,260.2 267.0,259.2 268.0,261.0" fill="rgb(189,189,189)"/><polygon points="254.5,257.5 256.7,257.7 259.7,258.4 258.4,261.7 256.4,262.3 255.3,261.1" fill="rgb(172,172,172)"/><polygon points="277.1,244.2 277.6,249.4 274.3,250.9 271.5,247.9 274.0,243.8" fill="rgb(113,113,113)"/><polygon points="275.9,223.0 277.2,223.1 278.1,223.7 277.7,225.2 276.1,224.8 275.3,224.2" fill="rgb(186,186,186)"/><polygon points="297.1,247.5 298.7,250.4 295.9,252.8 293.2,251.8 293.4,249.1 295.0,245.9" fill="rgb(160,160,160)"/><polygon points="254.0,254.6 255.0,251.0 259.6,253.3 257.2,255.8" fill="rgb(106,106,106)"/><polygon points="265.5,264.6 268.1,263.9 270.6,266.9 265.9,269.0" fill="rgb(189,189,189)"/><polygon points="267.7,234.1 268.3,237.7 265.8,239.2 263.6,237.2 261.3,235.7 263.6,234.5 267.1,232.3" fill="rgb(87,87,87)"/><polygon points="279.6,225.3 281.4,225.7 280.9,226.8 279.5,228.1 278.9,226.5" fill="rgb(121,121,121)"/><polygon points="242.1,202.4 242.6,205.0 239.8,204.3 239.9,201.3" fill="rgb(130,130,130)"/><polygon points="266.0,260.9 264.8,259.5 265.4,257.8 266.8,258.0 267.1,259.6" fill="rgb(110,110,110)"/><polygon points="289.6,190.1 290.8,190.5 291.4,192.3 290.0,192.6 288.7,192.0 288.8,190.7" fill="rgb(93,93,93)"/><polygon points="270.2,243.4 271.1,240.5 274.1,240.0 274.2,243.1 272.2,246.1" fill="rgb(90,90,90)"/><polygon points="275.3,217.1 275.3,215.5 276.9,215.9 276.6,217.3" fill="rgb(173,173,173)"/><polygon points="282.5,233.6 279.3,232.2 281.2,230.1 282.7,231.3" fill="rgb(115,115,115)"/><polygon points="291.3,271.7 288.6,274.2 285.3,271.8 287.5,267.9" fill="rgb(133,133,133)"/><polygon points="258.8,274.4 259.0,276.7 255.7,279.0 254.8,276.3 254.5,273.8 257.2,272.2" fill="rgb(191,191,191)"/><polygon points="277.4,224.2 279.1,222.1 280.3,221.3 281.0,222.0 282.5,223.4 280.8,224.4 279.2,225.7" fill="rgb(139,139,139)"/><polygon points="268.8,209.9 267.5,211.9 265.5,212.0 264.9,210.2 265.5,208.5 266.3,207.2 268.7,208.2" fill="rgb(149,149,149)"/><polygon points="271.7,245.6 270.9,244.2 269.7,243.2 271.2,242.4 272.6,242.2 273.2,243.1 273.0,244.5" fill="rgb(95,95,95)"/><polygon points="283.3,236.2 284.8,232.7 287.5,232.7 288.7,234.8 287.4,237.6 285.8,237.4" fill="rgb(155,155,155)"/><polygon points="298.7,212.0 298.5,213.6 296.5,213.7 296.6,211.8 297.9,211.1" fill="rgb(131,131,131)"/><polygon points="218.8,258.6 221.0,256.2 222.5,258.2 221.3,261.3" fill="rgb(173,173,173)"/><polygon points="233.7,256.7 237.9,258.2 238.2,261.6 234.3,262.8 232.6,260.0" fill="rgb(141,141,141)"/><polygon points="250.8,253.0 250.7,254.2 249.5,255.8 248.7,254.7 247.4,253.2 248.7,251.6 249.7,251.3" fill="rgb(91,91,91)"/><polygon points="270.8,194.8 272.7,196.9 272.0,198.8 270.2,199.5 267.9,200.8 266.4,198.1 267.9,194.8" fill="rgb(141,141,141)"/><polygon points="248.2,275.2 250.0,275.6 250.3,276.6 250.1,278.0 248.0,277.7 247.8,276.3" fill="rgb(97,97,97)"/><polygon points="268.4,189.5 267.5,190.8 265.7,190.2 265.1,188.9 265.5,188.0 266.8,187.0 268.3,188.0" fill="rgb(179,179,179)"/><polygon points="270.0,211.2 270.6,208.4 272.5,207.3 274.0,210.1 272.3,212.6" fill="rgb(184,184,184)"/><polygon points="281.2,206.9 280.5,207.9 279.8,208.7 278.2,208.0 278.6,206.1 279.6,205.0 281.0,205.7" fill="rgb(132,132,132)"/><polygon points="268.6,213.1 267.2,212.2 266.2,211.7 266.6,209.9 267.9,209.8 269.0,210.3 269.5,211.8" fill="rgb(129,129,129)"/><polygon points="258.3,255.5 256.8,254.9 257.5,253.0 258.8,253.2 260.0,255.0" fill="rgb(181,181,181)"/><polygon points="281.2,200.0 279.8,194.5 284.7,193.4 284.2,197.2" fill="rgb(95,95,95)"/><polygon points="259.9,197.5 259.2,195.7 261.1,194.7 262.7,196.1 262.1,198.1" fill="rgb(135,135,135)"/><polygon points="254.5,246.0 255.7,247.3 254.7,249.6 253.0,248.7 251.7,248.0 251.7,246.4 253.7,245.2" fill="rgb(128,128,128)"/><polygon points="281.7,220.2 284.1,221.9 283.3,225.0 281.2,225.2 278.5,224.6 279.9,221.4" fill="rgb(149,149,149)"/><polygon points="270.8,275.7 273.2,276.7 273.8,279.6 271.4,280.9 268.3,279.7 269.1,276.4" fill="rgb(147,147,147)"/><polygon points="265.4,245.8 265.0,244.1 265.3,241.3 267.3,242.1 268.6,242.0 269.2,244.3 268.3,245.2" fill="rgb(132,132,132)"/><polygon points="278.2,264.9 277.8,263.0 279.1,262.4 279.7,263.8" fill="rgb(126,126,126)"/><polygon points="257.9,217.3 258.9,220.2 258.8,222.9 255.6,221.3 255.4,219.6" fill="rgb(91,91,91)"/><polygon points="255.4,251.1 256.0,254.0 254.3,255.3 252.7,255.1 251.2,253.1 253.2,251.0" fill="rgb(193,193,193)"/><polygon points="258.0,250.8 260.5,250.1 260.8,252.0 260.3,253.4 258.1,252.5" fill="rgb(151,151,151)"/><polygon points="292.6,219.7 293.8,221.3 292.7,222.9 290.4,223.1 289.7,220.5 291.0,219.9" fill="rgb(123,123,123)"/><polygon points="220.4,277.5 218.7,279.5 216.6,280.2 215.5,277.0 216.5,275.1 218.9,274.3 220.5,275.7" fill="rgb(117,117,117)"/><polygon points="288.5,238.8 288.2,237.0 290.3,236.0 290.9,238.7" fill="rgb(181,181,181)"/><polygon points="287.7,207.5 290.1,207.4 291.7,209.6 291.2,212.5 288.1,212.3 287.0,211.9 285.2,209.8" fill="rgb(153,153,153)"/><polygon points="281.2,206.1 281.2,204.3 283.1,203.8 284.1,204.7 283.6,206.7" fill="rgb(181,181,181)"/><polygon points="258.4,220.0 257.4,218.4 259.0,216.8 259.8,218.6" fill="rgb(194,194,194)"/><polygon points="295.0,241.6 296.0,242.8 294.6,244.2 293.7,243.4 293.8,242.3" fill="rgb(166,166,166)"/><polygon points="244.9,246.8 243.5,246.5 243.4,245.0 243.1,243.8 244.6,243.9 245.9,244.6 245.8,246.2" fill="rgb(96,96,96)"/><polygon points="276.5,258.7 275.0,258.7 273.3,256.1 275.4,254.2 278.3,254.5 279.3,257.5" fill="rgb(173,173,173)"/><polygon points="289.0,238.0 285.8,235.3 288.4,232.5 292.0,235.0 291.4,238.2" fill="rgb(157,157,157)"/><polygon points="246.4,271.6 245.1,271.5 245.0,269.8 246.6,269.8 247.7,270.3 247.6,271.9" fill="rgb(120,120,120)"/><polygon points="272.5,242.8 273.0,242.2 274.1,241.7 274.4,242.2 275.1,243.3 274.2,243.8 272.8,243.8" fill="rgb(147,147,147)"/><polygon points="233.1,242.9 234.5,241.1 235.7,241.3 236.1,243.0 234.7,243.8" fill="rgb(181,181,181)"/><polygon points="255.9,210.8 253.4,211.7 254.1,208.9 256.5,208.1" fill="rgb(151,151,151)"/><polygon points="240.9,208.6 244.6,207.1 245.9,210.7 241.7,213.1" fill="rgb(172,172,172)"/><polygon points="279.6,223.6 280.9,223.0 282.3,223.1 282.6,224.2 282.3,226.2 281.0,226.4 279.8,224.7" fill="rgb(127,127,127)"/><polygon points="262.6,190.4 262.4,193.2 260.6,195.7 258.0,194.1 258.1,190.5 260.9,189.9" fill="rgb(112,112,112)"/><polygon points="289.1,214.1 291.9,216.1 288.5,218.6 285.8,215.8" fill="rgb(177,177,177)"/><polygon points="239.2,233.0 236.5,231.6 237.8,229.0 241.0,228.4 241.3,231.9" fill="rgb(158,158,158)"/><polygon points="287.1,282.4 283.5,279.4 286.9,276.0 289.0,279.1" fill="rgb(85,85,85)"/><polygon points="291.7,227.8 292.6,227.6 293.9,228.8 293.3,229.5 292.0,230.0 291.2,229.1" fill="rgb(111,111,111)"/><polygon points="264.3,259.3 266.3,257.1 268.3,257.6 270.0,260.0 269.3,262.4 268.0,263.3 265.4,262.3" fill="rgb(125,125,125)"/><polygon points="263.9,269.3 265.3,265.7 268.6,267.1 269.2,269.8 267.5,271.0" fill="rgb(102,102,102)"/><polygon points="268.8,214.6 267.6,214.3 266.2,213.6 267.0,212.2 268.3,211.8 269.5,213.1" fill="rgb(116,116,116)"/><polygon points="252.7,237.7 252.7,235.0 255.2,233.8 256.4,235.0 258.1,237.5 255.7,239.8 254.2,239.1" fill="rgb(140,140,140)"/><polygon points="265.2,213.5 264.2,216.4 262.1,216.0 259.3,215.7 258.3,212.5 260.2,211.5 262.1,211.8" fill="rgb(101,101,101)"/><polygon points="278.6,197.2 277.0,196.1 279.6,194.2 281.9,193.3 281.8,196.6 280.6,197.9" fill="rgb(134,134,134)"/><polygon points="275.9,213.3 274.2,210.2 276.6,207.4 278.1,210.8" fill="rgb(186,186,186)"/><polygon points="299.0,189.3 298.6,193.1 293.7,192.6 295.8,189.4" fill="rgb(135,135,135)"/><polygon points="265.8,219.0 267.2,220.3 266.3,222.4 263.8,220.8" fill="rgb(112,112,112)"/><polygon points="279.7,234.0 280.9,235.6 278.6,238.3 277.4,236.6 276.5,234.8 277.5,233.3" fill="rgb(178,178,178)"/><polygon points="282.4,253.0 282.6,249.9 284.5,248.3 286.6,250.2 285.2,253.1" fill="rgb(191,191,191)"/><polygon points="248.5,258.1 249.0,259.4 247.1,260.4 245.8,259.4 245.0,257.9 246.6,256.9" fill="rgb(147,147,147)"/><polygon points="281.4,208.0 281.1,210.9 277.1,213.1 276.5,209.8 278.9,207.1" fill="rgb(181,181,181)"/><polygon points="261.6,267.3 260.4,268.9 259.4,269.4 257.5,269.5 257.9,267.8 258.4,266.8 260.0,266.1" fill="rgb(111,111,111)"/><polygon points="246.2,230.4 243.9,229.3 244.3,226.9 247.0,226.2 248.3,226.4 248.8,228.4 247.5,229.6" fill="rgb(130,130,130)"/><polygon points="257.3,236.4 259.0,236.0 260.3,236.7 259.8,238.3 258.9,239.1 257.3,238.6" fill="rgb(160,160,160)"/><polygon points="284.2,260.6 283.5,263.0 281.2,261.7 280.3,259.7 281.0,257.8 283.5,257.2 284.2,259.7" fill="rgb(145,145,145)"/><polygon points="246.0,221.9 244.2,222.9 243.0,221.7 243.6,220.3 245.3,220.1" fill="rgb(96,96,96)"/><polygon points="294.1,191.2 295.8,190.7 297.0,191.6 296.3,193.3 294.3,193.1" fill="rgb(180,180,180)"/><polygon points="275.0,276.7 277.5,277.2 279.1,278.3 276.1,279.8 273.9,279.4" fill="rgb(144,144,144)"/></g><g filter="url(#bl2)"><polygon points="238.2,278.0 236.2,277.2 237.1,275.4 237.0,274.2 239.2,273.5 240.3,275.0 241.5,275.6 240.2,277.8" fill="none" stroke="rgb(107,107,107)" stroke-width="0.43"/><polygon points="277.5,262.2 276.3,261.2 276.4,260.5 277.2,259.2 278.2,259.6 278.6,260.0 279.1,260.8 278.4,261.5" fill="none" stroke="rgb(110,110,110)" stroke-width="0.74"/><polygon points="272.5,202.3 271.6,203.8 270.1,204.7 268.3,204.4 267.4,203.1 268.3,200.7 270.0,198.8 272.0,199.8 272.4,201.6" fill="none" stroke="rgb(128,128,128)" stroke-width="0.55"/><polyline points="258.3,273.0 255.8,271.5 257.0,272.3" fill="none" stroke="rgb(173,173,173)" stroke-width="0.81"/><polygon points="290.5,248.9 289.0,251.3 287.0,250.2 286.9,248.2 289.6,247.5" fill="none" stroke="rgb(118,118,118)" stroke-width="0.74"/><polygon points="218.9,259.0 218.6,260.5 217.8,260.9 217.2,261.3 216.3,261.0 215.6,259.2 216.6,259.1 217.3,258.8 218.5,258.8" fill="none" stroke="rgb(153,153,153)" stroke-width="0.83"/><polyline points="269.5,244.6 269.7,247.6 271.0,247.9 269.6,249.8" fill="none" stroke="rgb(207,207,207)" stroke-width="0.91"/><polygon points="293.4,205.2 294.1,206.2 293.8,206.8 293.1,207.6 291.9,207.0 291.4,205.6 292.6,205.2" fill="none" stroke="rgb(210,210,210)" stroke-width="0.41"/><polygon points="235.7,272.8 236.5,272.5 236.6,272.2 237.4,272.4 237.8,272.8 237.7,273.6 237.4,273.8 236.7,273.8 236.3,273.6" fill="none" stroke="rgb(129,129,129)" stroke-width="0.90"/><polyline points="248.8,270.7 251.9,272.1 249.4,270.7 247.3,270.3 248.7,271.5" fill="none" stroke="rgb(158,158,158)" stroke-width="0.91"/><polygon points="259.0,216.4 261.9,215.2 262.7,217.6 261.7,219.5 258.6,218.6" fill="none" stroke="rgb(164,164,164)" stroke-width="0.64"/><polyline points="244.9,262.1 242.4,264.0 243.3,265.8" fill="none" stroke="rgb(173,173,173)" stroke-width="0.62"/><polygon points="245.4,224.5 246.7,224.7 246.2,226.1 245.6,227.4 244.5,227.3 242.9,226.4 242.7,224.8 243.9,223.9" fill="none" stroke="rgb(109,109,109)" stroke-width="0.86"/><polygon points="263.0,226.0 263.3,228.4 263.1,229.8 261.8,230.0 260.5,230.3 258.9,228.7 259.3,227.8 260.7,226.5 261.2,225.5" fill="none" stroke="rgb(193,193,193)" stroke-width="0.76"/><circle cx="277.6" cy="216.1" r="1.3" fill="none" stroke="rgb(179,179,179)" stroke-width="0.44"/><polyline points="240.6,229.7 240.7,227.8 242.7,229.1 243.5,230.1 241.8,227.9 239.6,226.6" fill="none" stroke="rgb(162,162,162)" stroke-width="1.08"/><circle cx="260.0" cy="260.9" r="1.3" fill="none" stroke="rgb(196,196,196)" stroke-width="0.69"/><polyline points="261.2,255.2 260.0,256.4 262.1,257.6 260.4,260.5" fill="none" stroke="rgb(206,206,206)" stroke-width="0.81"/><polygon points="265.5,196.0 266.5,195.2 267.3,196.0 267.6,197.3 267.2,198.0 266.0,198.3 265.3,197.4" fill="none" stroke="rgb(185,185,185)" stroke-width="0.57"/><circle cx="270.5" cy="260.1" r="2.0" fill="none" stroke="rgb(158,158,158)" stroke-width="0.44"/><polyline points="255.9,239.1 254.7,237.4 257.9,237.0 259.1,234.8 262.5,234.5 265.2,236.4" fill="none" stroke="rgb(212,212,212)" stroke-width="0.83"/><polyline points="261.6,200.1 260.6,199.2 258.6,200.8 256.7,203.4 259.3,201.2" fill="none" stroke="rgb(146,146,146)" stroke-width="0.90"/><circle cx="259.9" cy="270.1" r="2.3" fill="none" stroke="rgb(118,118,118)" stroke-width="0.66"/><polyline points="288.7,257.5 286.4,260.0 283.5,260.6 284.3,262.4" fill="none" stroke="rgb(223,223,223)" stroke-width="0.75"/><polyline points="264.7,263.0 266.7,263.4 268.8,263.2" fill="none" stroke="rgb(169,169,169)" stroke-width="1.10"/><polyline points="236.9,269.8 234.9,269.3 234.9,272.5 237.6,270.9 236.5,272.9 238.3,271.4" fill="none" stroke="rgb(243,243,243)" stroke-width="0.90"/><circle cx="260.6" cy="252.1" r="1.1" fill="none" stroke="rgb(174,174,174)" stroke-width="0.42"/><polyline points="247.3,210.8 246.0,211.1 245.9,209.7" fill="none" stroke="rgb(196,196,196)" stroke-width="0.62"/><polygon points="259.0,222.8 259.7,221.9 260.7,222.1 261.1,223.3 260.2,223.9 259.3,223.4" fill="none" stroke="rgb(186,186,186)" stroke-width="0.70"/><polygon points="282.1,199.3 282.7,200.6 280.8,201.5 279.6,201.5 277.9,200.2 278.0,198.2 279.4,198.1 280.3,197.8 281.8,197.4" fill="none" stroke="rgb(124,124,124)" stroke-width="0.71"/><polyline points="252.7,204.7 253.9,203.9 253.4,205.9" fill="none" stroke="rgb(223,223,223)" stroke-width="0.97"/><polyline points="253.9,236.0 253.7,232.9 251.0,232.6 252.8,230.1 253.5,231.2 252.7,228.2" fill="none" stroke="rgb(159,159,159)" stroke-width="1.03"/><polygon points="274.3,247.7 272.8,250.8 269.8,250.5 268.8,248.7 269.8,246.0 271.8,245.4" fill="none" stroke="rgb(196,196,196)" stroke-width="0.86"/><polyline points="267.0,197.1 267.6,196.0 266.9,198.6" fill="none" stroke="rgb(146,146,146)" stroke-width="0.80"/><polyline points="259.9,199.7 256.8,199.8 258.4,200.2 258.8,203.2 260.0,203.4 258.5,204.9" fill="none" stroke="rgb(228,228,228)" stroke-width="1.03"/><polyline points="261.9,252.1 260.1,253.3 259.2,252.2 257.2,250.2 257.1,252.5" fill="none" stroke="rgb(173,173,173)" stroke-width="1.09"/><polygon points="223.7,257.5 221.7,257.5 220.4,256.5 221.3,255.2 222.4,254.2 224.0,254.5 224.9,255.5 224.2,256.8" fill="none" stroke="rgb(168,168,168)" stroke-width="0.61"/><polyline points="266.7,218.6 267.0,217.4 263.9,216.0 263.7,217.9" fill="none" stroke="rgb(233,233,233)" stroke-width="0.72"/><polygon points="274.8,193.4 274.1,192.4 274.7,191.2 275.3,191.3 276.5,191.5 276.8,192.3 276.6,193.3 275.4,193.3" fill="none" stroke="rgb(159,159,159)" stroke-width="0.53"/><polyline points="269.6,266.2 268.1,266.1 267.9,264.5 266.1,266.2 265.8,269.4" fill="none" stroke="rgb(197,197,197)" stroke-width="1.09"/><polyline points="235.9,227.8 234.5,227.4 236.4,226.3 236.5,225.0 234.0,224.2" fill="none" stroke="rgb(207,207,207)" stroke-width="0.93"/><circle cx="296.7" cy="257.7" r="2.4" fill="none" stroke="rgb(136,136,136)" stroke-width="0.68"/><polyline points="290.7,264.4 288.9,262.9 288.5,264.4 285.6,265.5 282.3,264.4 283.1,262.1" fill="none" stroke="rgb(202,202,202)" stroke-width="0.81"/><polyline points="271.3,203.9 271.8,200.7 269.3,200.8 269.3,202.9" fill="none" stroke="rgb(242,242,242)" stroke-width="0.87"/><circle cx="257.1" cy="192.8" r="1.4" fill="none" stroke="rgb(118,118,118)" stroke-width="0.58"/><polyline points="261.8,243.1 263.7,244.4 263.2,247.1" fill="none" stroke="rgb(157,157,157)" stroke-width="0.75"/><polygon points="283.3,220.4 284.1,220.6 285.0,221.2 284.2,221.9 283.5,222.5 282.4,222.9 281.7,222.2 281.9,221.0 282.5,220.6" fill="none" stroke="rgb(194,194,194)" stroke-width="0.53"/><polygon points="266.7,214.5 268.3,216.4 267.9,218.1 267.8,219.5 265.1,220.0 263.4,218.6 262.9,217.1 264.9,215.5" fill="none" stroke="rgb(130,130,130)" stroke-width="0.72"/><circle cx="251.2" cy="206.1" r="1.4" fill="none" stroke="rgb(104,104,104)" stroke-width="0.77"/><polyline points="264.8,252.8 263.7,251.3 263.1,248.8 264.7,249.4" fill="none" stroke="rgb(164,164,164)" stroke-width="1.02"/><polyline points="259.5,256.1 257.4,256.3 257.7,258.2 259.0,260.8" fill="none" stroke="rgb(228,228,228)" stroke-width="0.70"/><polyline points="259.5,215.5 260.5,217.7 258.3,216.5" fill="none" stroke="rgb(217,217,217)" stroke-width="0.83"/><polyline points="254.7,226.1 252.4,228.2 253.7,227.4" fill="none" stroke="rgb(209,209,209)" stroke-width="0.89"/><polygon points="274.2,221.8 270.7,223.6 267.3,222.1 268.9,219.5 269.9,217.7 272.6,219.2" fill="none" stroke="rgb(145,145,145)" stroke-width="0.66"/><polygon points="277.0,278.6 279.0,276.3 281.8,277.8 282.5,281.4 279.1,281.1" fill="none" stroke="rgb(193,193,193)" stroke-width="0.42"/><circle cx="255.7" cy="244.5" r="1.6" fill="none" stroke="rgb(145,145,145)" stroke-width="0.55"/><circle cx="273.9" cy="190.1" r="1.7" fill="none" stroke="rgb(173,173,173)" stroke-width="0.66"/><polygon points="289.2,219.4 290.2,219.5 290.4,221.4 289.6,222.5 287.7,221.5 287.8,220.2" fill="none" stroke="rgb(115,115,115)" stroke-width="0.63"/><circle cx="280.8" cy="232.1" r="1.0" fill="none" stroke="rgb(156,156,156)" stroke-width="0.42"/><polyline points="260.3,263.5 258.3,266.1 259.2,267.5" fill="none" stroke="rgb(199,199,199)" stroke-width="0.87"/><circle cx="285.1" cy="233.3" r="2.1" fill="none" stroke="rgb(189,189,189)" stroke-width="0.65"/><polyline points="231.5,247.4 229.7,247.7 231.2,245.6 230.8,248.5" fill="none" stroke="rgb(244,244,244)" stroke-width="0.93"/><polyline points="249.6,279.4 250.6,278.5 253.1,278.8" fill="none" stroke="rgb(232,232,232)" stroke-width="0.88"/><circle cx="283.6" cy="199.5" r="1.6" fill="none" stroke="rgb(152,152,152)" stroke-width="0.76"/><polyline points="225.7,272.1 226.8,270.4 228.6,268.9 231.0,270.6 229.4,268.4 231.3,271.2" fill="none" stroke="rgb(140,140,140)" stroke-width="0.82"/><circle cx="271.3" cy="218.6" r="1.0" fill="none" stroke="rgb(183,183,183)" stroke-width="0.49"/><polyline points="297.8,212.9 294.7,214.2 292.4,213.3 290.9,215.0 290.7,217.2" fill="none" stroke="rgb(167,167,167)" stroke-width="0.64"/><polygon points="261.0,227.0 260.4,227.6 259.0,227.6 257.8,226.5 258.7,225.4 259.9,223.9 260.8,224.2 261.6,225.4" fill="none" stroke="rgb(132,132,132)" stroke-width="0.67"/><polyline points="287.2,216.0 285.9,215.6 286.1,217.0 283.5,214.9 282.1,214.7" fill="none" stroke="rgb(208,208,208)" stroke-width="0.87"/><polyline points="246.2,230.4 243.5,230.1 243.4,232.2 246.2,232.3 247.5,229.7 250.4,229.2" fill="none" stroke="rgb(151,151,151)" stroke-width="0.76"/><polygon points="260.6,233.5 262.9,231.6 265.8,232.7 266.1,236.0 263.1,238.7 260.9,236.6" fill="none" stroke="rgb(107,107,107)" stroke-width="0.45"/><polyline points="280.6,206.6 278.8,204.2 277.5,203.6 277.5,206.5" fill="none" stroke="rgb(152,152,152)" stroke-width="0.79"/><circle cx="252.8" cy="233.4" r="2.3" fill="none" stroke="rgb(106,106,106)" stroke-width="0.66"/><polyline points="284.5,207.8 283.1,210.9 280.9,211.2 283.4,211.9 284.2,213.1" fill="none" stroke="rgb(198,198,198)" stroke-width="0.90"/><polygon points="285.7,268.8 284.8,267.5 284.7,266.1 286.6,265.8 287.6,267.3 287.0,268.9" fill="none" stroke="rgb(162,162,162)" stroke-width="0.84"/><circle cx="282.1" cy="212.3" r="2.1" fill="none" stroke="rgb(119,119,119)" stroke-width="0.75"/><circle cx="297.0" cy="234.6" r="1.8" fill="none" stroke="rgb(179,179,179)" stroke-width="0.79"/><polyline points="285.4,236.4 288.0,238.1 286.9,239.5 285.3,238.2 286.8,238.4 285.6,235.8" fill="none" stroke="rgb(244,244,244)" stroke-width="0.73"/><circle cx="264.5" cy="230.3" r="2.0" fill="none" stroke="rgb(146,146,146)" stroke-width="0.51"/><polyline points="296.4,209.6 297.0,211.3 296.7,209.5 298.6,208.1 297.1,209.0" fill="none" stroke="rgb(224,224,224)" stroke-width="0.68"/><polyline points="284.2,264.1 281.3,264.6 284.0,265.4 285.4,263.8 285.2,261.0" fill="none" stroke="rgb(192,192,192)" stroke-width="0.99"/><polygon points="292.1,190.5 291.9,189.5 292.7,187.9 294.4,187.3 295.6,187.7 296.6,189.0 296.2,190.8 295.6,191.3 294.0,190.9" fill="none" stroke="rgb(153,153,153)" stroke-width="0.49"/><polyline points="298.1,242.7 300.4,241.4 302.7,241.1 304.7,242.9 304.1,241.2 303.9,242.5" fill="none" stroke="rgb(187,187,187)" stroke-width="1.02"/><polygon points="269.0,268.8 268.9,269.8 267.3,271.3 265.6,270.3 266.0,268.9 266.8,267.8 268.0,267.7" fill="none" stroke="rgb(104,104,104)" stroke-width="0.73"/><polyline points="251.9,254.8 249.0,254.8 252.1,255.9 252.0,254.6" fill="none" stroke="rgb(225,225,225)" stroke-width="0.74"/><polygon points="247.9,227.1 248.9,227.3 250.0,227.5 250.0,228.7 249.4,229.2 248.4,229.3 247.8,228.2" fill="none" stroke="rgb(119,119,119)" stroke-width="0.72"/><polyline points="287.5,215.7 284.8,215.3 284.9,212.2 284.4,210.8 282.4,210.0" fill="none" stroke="rgb(228,228,228)" stroke-width="0.90"/><polyline points="263.5,238.8 265.2,236.2 266.4,238.7 264.3,238.4 266.7,240.6" fill="none" stroke="rgb(243,243,243)" stroke-width="0.96"/><polygon points="250.3,208.6 248.7,208.1 249.2,206.4 249.8,204.9 252.0,205.5 252.6,207.3 252.6,208.8" fill="none" stroke="rgb(127,127,127)" stroke-width="0.52"/><polyline points="282.0,250.2 279.7,249.6 278.9,247.7 280.9,248.8" fill="none" stroke="rgb(225,225,225)" stroke-width="0.94"/><polyline points="281.9,271.8 280.0,272.8 278.9,273.8" fill="none" stroke="rgb(244,244,244)" stroke-width="0.78"/><polygon points="294.1,240.4 293.4,241.3 292.2,241.0 291.9,239.6 292.8,238.6 294.0,239.2" fill="none" stroke="rgb(104,104,104)" stroke-width="0.64"/><polyline points="275.3,200.4 273.5,200.3 273.7,197.1 274.6,199.6 272.5,201.2" fill="none" stroke="rgb(208,208,208)" stroke-width="0.87"/><polygon points="284.4,237.6 282.4,237.8 281.5,234.8 283.7,232.5 285.9,233.3 286.5,235.8" fill="none" stroke="rgb(167,167,167)" stroke-width="0.74"/><polygon points="228.0,228.0 225.9,228.0 224.1,226.9 224.3,224.8 226.7,223.4 227.6,224.5 228.2,225.8" fill="none" stroke="rgb(174,174,174)" stroke-width="0.48"/><polygon points="281.5,223.8 282.4,222.9 283.7,223.8 283.6,224.7 283.0,226.2 282.1,225.9 281.4,225.1" fill="none" stroke="rgb(141,141,141)" stroke-width="0.45"/><polygon points="242.1,219.6 241.3,222.5 237.7,221.4 236.9,219.1 237.6,216.2 240.2,217.7" fill="none" stroke="rgb(107,107,107)" stroke-width="0.82"/><polygon points="274.6,240.8 273.2,241.6 271.0,240.7 270.2,237.9 273.3,236.4 276.4,237.9" fill="none" stroke="rgb(167,167,167)" stroke-width="0.65"/><polyline points="260.0,210.7 259.1,208.8 262.0,208.6 263.8,210.5 261.2,208.2 263.8,206.4" fill="none" stroke="rgb(221,221,221)" stroke-width="0.83"/><polygon points="225.8,244.0 227.3,243.2 228.4,242.9 230.2,243.1 230.4,244.8 228.3,246.9 227.1,246.1" fill="none" stroke="rgb(218,218,218)" stroke-width="0.74"/><polygon points="268.5,211.9 267.3,212.2 265.4,211.3 265.9,209.2 266.4,208.8 267.9,208.6 269.2,208.9 269.1,210.8" fill="none" stroke="rgb(127,127,127)" stroke-width="0.90"/><polyline points="288.1,263.1 287.9,264.8 289.3,265.3 287.8,266.9" fill="none" stroke="rgb(202,202,202)" stroke-width="1.06"/><polygon points="232.9,241.4 232.3,240.3 233.3,239.3 234.7,240.0 235.0,242.0" fill="none" stroke="rgb(152,152,152)" stroke-width="0.55"/><circle cx="216.7" cy="273.7" r="1.3" fill="none" stroke="rgb(107,107,107)" stroke-width="0.53"/><circle cx="243.1" cy="272.8" r="1.9" fill="none" stroke="rgb(115,115,115)" stroke-width="0.42"/><polygon points="269.5,266.5 267.0,265.4 267.5,262.9 267.9,261.3 270.6,260.7 271.8,262.9 270.7,265.4" fill="none" stroke="rgb(132,132,132)" stroke-width="0.62"/><polygon points="260.7,253.7 259.4,253.1 258.6,250.9 258.8,249.2 259.5,247.9 261.7,248.5 262.6,249.5 263.0,251.7" fill="none" stroke="rgb(192,192,192)" stroke-width="0.72"/><polyline points="278.4,231.1 278.0,229.1 281.5,229.4 282.7,229.9" fill="none" stroke="rgb(202,202,202)" stroke-width="1.10"/><polygon points="254.7,235.5 254.5,237.9 251.0,237.2 251.6,234.6 253.2,234.6" fill="none" stroke="rgb(103,103,103)" stroke-width="0.44"/><circle cx="251.9" cy="269.6" r="0.9" fill="none" stroke="rgb(141,141,141)" stroke-width="0.67"/><polyline points="254.2,219.0 256.6,219.2 256.9,217.3" fill="none" stroke="rgb(155,155,155)" stroke-width="0.77"/><polyline points="275.6,266.0 278.1,267.0 276.4,269.2 277.8,271.5 277.4,273.7 274.6,271.9" fill="none" stroke="rgb(160,160,160)" stroke-width="0.99"/><polygon points="277.9,279.7 277.0,280.1 275.5,279.5 275.9,278.3 277.0,277.9 277.8,278.5" fill="none" stroke="rgb(148,148,148)" stroke-width="0.82"/><polygon points="285.9,249.2 285.1,251.7 283.1,251.8 281.2,251.2 280.5,248.6 281.9,247.0 284.6,246.7" fill="none" stroke="rgb(198,198,198)" stroke-width="0.58"/><polygon points="256.2,193.5 255.7,191.8 256.8,191.4 258.3,191.9 258.0,192.8 257.4,193.9" fill="none" stroke="rgb(208,208,208)" stroke-width="0.76"/><polyline points="273.2,256.1 271.5,255.6 271.3,257.1" fill="none" stroke="rgb(147,147,147)" stroke-width="1.06"/><polyline points="263.5,215.3 260.9,216.4 259.5,217.7 259.1,219.7" fill="none" stroke="rgb(175,175,175)" stroke-width="0.66"/><circle cx="221.0" cy="262.2" r="1.7" fill="none" stroke="rgb(186,186,186)" stroke-width="0.80"/><polyline points="258.6,208.3 257.3,209.0 258.3,210.0 260.8,210.9" fill="none" stroke="rgb(241,241,241)" stroke-width="0.90"/><polyline points="266.3,229.4 265.8,231.6 263.0,232.9 260.5,233.8 259.3,231.6 260.2,232.6" fill="none" stroke="rgb(165,165,165)" stroke-width="0.67"/><polyline points="225.2,271.1 225.2,269.7 226.8,271.0" fill="none" stroke="rgb(151,151,151)" stroke-width="0.90"/><polyline points="262.9,277.9 262.0,281.0 263.5,282.4 266.4,283.5 266.3,280.2" fill="none" stroke="rgb(159,159,159)" stroke-width="1.02"/><polyline points="290.8,209.8 293.4,211.8 295.5,213.9 294.2,213.0 295.2,211.7 294.2,209.2" fill="none" stroke="rgb(148,148,148)" stroke-width="0.84"/><polygon points="250.9,227.1 252.0,226.8 252.9,227.5 253.5,228.6 253.0,229.6 252.9,230.2 251.6,229.8 250.9,229.2 250.8,228.0" fill="none" stroke="rgb(137,137,137)" stroke-width="0.68"/><polygon points="249.4,244.7 251.1,245.0 251.6,246.9 250.5,247.1 249.4,248.3 248.7,247.4 248.2,246.1 248.4,245.3" fill="none" stroke="rgb(171,171,171)" stroke-width="0.46"/><polyline points="269.1,252.7 269.2,254.6 265.9,255.2 265.7,256.9 265.5,253.6" fill="none" stroke="rgb(164,164,164)" stroke-width="0.75"/><polygon points="247.6,279.0 245.8,279.6 245.2,278.4 246.6,276.2 248.3,277.3" fill="none" stroke="rgb(119,119,119)" stroke-width="0.85"/><polyline points="241.9,279.4 241.3,280.4 240.1,282.0 241.5,282.7" fill="none" stroke="rgb(184,184,184)" stroke-width="0.65"/><polyline points="246.6,209.4 247.3,211.6 248.9,211.4 247.8,213.7 246.8,212.1" fill="none" stroke="rgb(181,181,181)" stroke-width="0.85"/><polygon points="255.9,270.3 254.9,270.8 253.1,269.8 252.3,268.3 253.4,266.6 254.2,264.4 256.7,266.3 257.4,267.1 256.9,269.5" fill="none" stroke="rgb(218,218,218)" stroke-width="0.60"/><polyline points="236.8,250.6 235.6,250.2 237.6,249.4 240.8,249.4 243.0,249.7" fill="none" stroke="rgb(202,202,202)" stroke-width="0.97"/><polyline points="250.2,263.1 250.0,264.8 248.9,262.9" fill="none" stroke="rgb(175,175,175)" stroke-width="1.03"/><polyline points="273.4,210.0 270.5,209.1 271.8,211.0 270.9,210.0" fill="none" stroke="rgb(199,199,199)" stroke-width="1.06"/><polyline points="239.9,254.0 238.3,252.0 236.1,252.4 234.5,251.2 235.2,248.8 233.0,249.8" fill="none" stroke="rgb(214,214,214)" stroke-width="1.02"/><polyline points="246.0,208.5 245.6,207.3 246.5,206.0 246.2,209.3" fill="none" stroke="rgb(184,184,184)" stroke-width="0.72"/><circle cx="275.6" cy="232.5" r="1.0" fill="none" stroke="rgb(178,178,178)" stroke-width="0.60"/><polyline points="212.3,244.1 214.0,243.3 215.4,242.9" fill="none" stroke="rgb(171,171,171)" stroke-width="0.73"/><polyline points="237.1,224.4 239.9,224.4 239.9,227.8" fill="none" stroke="rgb(233,233,233)" stroke-width="0.60"/><polyline points="287.2,190.9 289.2,191.7 287.5,189.0 286.3,190.7" fill="none" stroke="rgb(207,207,207)" stroke-width="0.84"/><polyline points="284.9,198.0 287.2,198.8 288.6,200.9 288.7,203.4 287.9,201.9 288.2,200.0" fill="none" stroke="rgb(145,145,145)" stroke-width="0.86"/><circle cx="260.7" cy="218.0" r="2.2" fill="none" stroke="rgb(118,118,118)" stroke-width="0.60"/><polygon points="285.0,240.1 283.7,240.2 284.0,238.4 285.2,237.1 286.4,237.6 287.1,238.8 286.7,239.8" fill="none" stroke="rgb(183,183,183)" stroke-width="0.51"/><polygon points="244.6,237.1 244.8,235.7 245.3,235.1 246.5,234.1 247.4,235.1 248.8,236.1 248.1,237.6 246.3,238.7 244.9,238.2" fill="none" stroke="rgb(188,188,188)" stroke-width="0.54"/><polyline points="281.1,266.6 280.2,264.2 283.0,265.7 281.7,265.4" fill="none" stroke="rgb(218,218,218)" stroke-width="0.85"/><circle cx="273.8" cy="250.1" r="2.3" fill="none" stroke="rgb(141,141,141)" stroke-width="0.76"/><polyline points="243.9,258.7 245.4,258.4 247.8,255.9 247.9,257.2 248.3,255.7 246.6,257.1" fill="none" stroke="rgb(142,142,142)" stroke-width="0.94"/><polyline points="284.0,208.0 285.1,205.5 284.6,206.9 283.2,204.3 281.4,202.1" fill="none" stroke="rgb(202,202,202)" stroke-width="0.61"/><polyline points="272.1,237.5 271.1,234.6 269.2,233.9 269.1,232.5" fill="none" stroke="rgb(168,168,168)" stroke-width="0.61"/><polyline points="240.6,253.3 241.9,250.3 243.0,249.5 244.5,252.1" fill="none" stroke="rgb(158,158,158)" stroke-width="0.77"/><polyline points="262.1,257.1 260.1,259.3 261.4,256.4 263.4,257.3 261.8,258.1 264.1,260.6" fill="none" stroke="rgb(199,199,199)" stroke-width="1.07"/><polyline points="261.3,195.2 260.2,195.8 257.6,195.2 260.2,193.0 259.2,191.7" fill="none" stroke="rgb(230,230,230)" stroke-width="0.81"/><polyline points="259.2,270.7 261.5,271.8 258.9,271.7" fill="none" stroke="rgb(235,235,235)" stroke-width="0.99"/><polygon points="285.7,256.5 285.2,258.1 283.5,258.0 282.8,256.4 283.3,255.6 284.5,254.9" fill="none" stroke="rgb(213,213,213)" stroke-width="0.75"/><circle cx="276.7" cy="233.4" r="2.2" fill="none" stroke="rgb(194,194,194)" stroke-width="0.42"/><circle cx="256.9" cy="230.9" r="1.2" fill="none" stroke="rgb(193,193,193)" stroke-width="0.68"/><polyline points="252.1,226.2 254.7,224.6 253.6,221.3 254.6,222.1 255.1,223.5 258.3,222.9" fill="none" stroke="rgb(217,217,217)" stroke-width="0.99"/><polygon points="262.8,232.6 261.6,233.6 259.7,234.1 257.5,233.5 257.5,231.2 258.1,230.0 260.5,229.4 262.5,230.2" fill="none" stroke="rgb(103,103,103)" stroke-width="0.79"/><polyline points="282.6,221.5 284.8,222.7 284.1,220.8 282.0,220.3 283.1,221.8" fill="none" stroke="rgb(238,238,238)" stroke-width="0.92"/><polyline points="289.5,236.3 286.5,235.2 286.7,237.9 286.6,235.3 285.5,233.2 282.4,233.0" fill="none" stroke="rgb(170,170,170)" stroke-width="1.09"/><polyline points="288.9,189.9 291.4,188.1 292.8,191.3 294.9,191.9 294.2,192.9 295.2,196.3" fill="none" stroke="rgb(241,241,241)" stroke-width="0.77"/><polyline points="288.1,241.4 287.0,242.5 285.2,245.1" fill="none" stroke="rgb(155,155,155)" stroke-width="0.72"/><polyline points="268.7,235.2 267.0,235.7 268.7,235.0 269.5,233.5 270.5,236.1" fill="none" stroke="rgb(182,182,182)" stroke-width="0.99"/><polyline points="280.2,227.3 282.1,226.1 280.9,225.5 283.3,223.8 283.4,226.9" fill="none" stroke="rgb(156,156,156)" stroke-width="0.84"/><polyline points="280.8,247.7 282.6,249.7 280.9,249.9 282.8,250.9 284.2,251.9" fill="none" stroke="rgb(220,220,220)" stroke-width="0.85"/><circle cx="238.6" cy="246.7" r="1.2" fill="none" stroke="rgb(157,157,157)" stroke-width="0.51"/><polyline points="263.4,275.1 261.5,272.8 259.8,274.6 259.2,272.3 259.3,270.5" fill="none" stroke="rgb(222,222,222)" stroke-width="0.76"/><polygon points="289.7,255.7 291.3,256.8 291.7,257.9 289.6,259.2 288.4,259.1 287.2,258.6 287.9,256.3 288.9,255.5" fill="none" stroke="rgb(106,106,106)" stroke-width="0.70"/><polyline points="260.6,231.9 259.8,230.2 260.4,231.9 262.8,229.5 265.8,228.4" fill="none" stroke="rgb(226,226,226)" stroke-width="0.72"/><polyline points="254.5,256.5 252.1,257.5 251.1,259.9 254.2,261.0 256.7,263.0 258.6,260.6" fill="none" stroke="rgb(218,218,218)" stroke-width="0.69"/><polygon points="286.5,223.2 283.9,222.8 284.0,220.6 287.0,220.2 287.8,222.2" fill="none" stroke="rgb(101,101,101)" stroke-width="0.44"/><polygon points="295.2,221.1 295.7,218.8 296.3,217.6 298.5,217.0 299.4,218.7 300.7,219.8 298.8,221.9 296.2,221.6" fill="none" stroke="rgb(188,188,188)" stroke-width="0.51"/><polyline points="286.2,235.4 286.5,238.0 286.0,240.0 285.3,243.4 283.6,244.9 286.3,246.6" fill="none" stroke="rgb(148,148,148)" stroke-width="1.01"/><polygon points="261.7,211.2 263.2,212.5 261.9,213.5 260.2,213.6 260.2,211.9" fill="none" stroke="rgb(217,217,217)" stroke-width="0.82"/><polyline points="245.1,256.5 243.1,255.4 243.3,253.7 241.4,255.6 244.2,253.5" fill="none" stroke="rgb(233,233,233)" stroke-width="0.73"/><polyline points="242.4,246.6 241.5,244.4 242.4,245.9 240.9,246.0 238.2,246.2 239.6,246.4" fill="none" stroke="rgb(227,227,227)" stroke-width="0.98"/><polygon points="272.1,265.5 270.2,265.7 268.5,263.6 268.9,261.9 270.2,259.9 272.8,261.3 273.7,262.7" fill="none" stroke="rgb(105,105,105)" stroke-width="0.64"/><circle cx="233.4" cy="259.8" r="1.1" fill="none" stroke="rgb(114,114,114)" stroke-width="0.49"/><polygon points="222.6,270.8 224.5,271.0 225.2,272.4 224.0,274.3 222.7,274.6 221.8,273.1 221.5,272.1" fill="none" stroke="rgb(103,103,103)" stroke-width="0.75"/><polyline points="242.0,229.4 240.5,230.1 243.0,230.8 245.7,228.7 247.3,228.1" fill="none" stroke="rgb(149,149,149)" stroke-width="0.64"/><polyline points="251.5,260.7 252.5,262.3 253.1,260.9 254.1,259.1 255.9,261.9" fill="none" stroke="rgb(229,229,229)" stroke-width="1.05"/><polygon points="270.9,193.1 270.5,190.5 272.7,190.4 274.8,191.4 276.3,192.7 274.9,194.4 273.1,195.3 270.7,195.1" fill="none" stroke="rgb(196,196,196)" stroke-width="0.79"/><polygon points="238.0,217.0 238.2,217.7 237.4,218.7 236.3,218.8 236.2,217.4 237.3,216.2" fill="none" stroke="rgb(126,126,126)" stroke-width="0.88"/><polyline points="274.6,248.2 274.7,251.1 275.7,252.7 273.2,252.4 271.2,253.0 271.4,254.8" fill="none" stroke="rgb(173,173,173)" stroke-width="0.66"/><polygon points="280.8,244.4 283.2,244.2 283.7,245.9 283.7,247.5 281.1,247.7 280.5,246.0" fill="none" stroke="rgb(104,104,104)" stroke-width="0.85"/><polyline points="263.7,245.4 262.1,246.4 262.1,249.0 263.3,250.1 262.5,252.8 262.3,250.3" fill="none" stroke="rgb(155,155,155)" stroke-width="0.78"/><polyline points="251.2,236.8 251.3,239.3 252.6,239.3 255.1,237.5 257.3,237.7 259.2,237.5" fill="none" stroke="rgb(228,228,228)" stroke-width="1.06"/><polyline points="269.7,216.3 270.3,217.3 270.9,216.2 269.7,214.1" fill="none" stroke="rgb(183,183,183)" stroke-width="0.89"/><polyline points="269.8,191.2 271.6,191.6 272.4,190.2 274.3,192.7" fill="none" stroke="rgb(243,243,243)" stroke-width="1.09"/><polygon points="296.1,247.8 295.2,249.0 293.8,248.6 293.2,247.2 294.6,246.7" fill="none" stroke="rgb(115,115,115)" stroke-width="0.58"/><circle cx="286.5" cy="253.1" r="1.8" fill="none" stroke="rgb(185,185,185)" stroke-width="0.79"/><circle cx="284.1" cy="212.0" r="2.1" fill="none" stroke="rgb(99,99,99)" stroke-width="0.71"/><polyline points="298.0,236.7 299.8,234.0 299.8,231.8 299.7,230.0 299.2,228.5" fill="none" stroke="rgb(243,243,243)" stroke-width="0.89"/><polygon points="258.5,258.4 259.9,259.2 261.0,260.8 260.5,262.5 258.5,262.5 257.6,261.9 257.3,260.2" fill="none" stroke="rgb(211,211,211)" stroke-width="0.50"/><polyline points="275.5,219.0 272.9,217.6 274.2,217.4 273.2,220.2 272.4,221.6" fill="none" stroke="rgb(229,229,229)" stroke-width="0.83"/><circle cx="240.3" cy="252.2" r="1.1" fill="none" stroke="rgb(131,131,131)" stroke-width="0.46"/><polygon points="258.6,262.3 257.6,260.8 258.9,258.4 260.4,259.5 261.4,261.5 260.2,263.3" fill="none" stroke="rgb(133,133,133)" stroke-width="0.49"/><circle cx="268.5" cy="263.4" r="2.0" fill="none" stroke="rgb(145,145,145)" stroke-width="0.40"/><circle cx="295.3" cy="258.4" r="1.7" fill="none" stroke="rgb(113,113,113)" stroke-width="0.48"/><polyline points="253.8,234.8 252.8,233.6 254.1,234.3 255.5,234.3 255.2,237.1" fill="none" stroke="rgb(211,211,211)" stroke-width="1.09"/><polyline points="241.7,257.1 242.0,254.8 244.9,255.8 246.3,256.5" fill="none" stroke="rgb(183,183,183)" stroke-width="0.75"/><polyline points="270.8,201.7 273.2,201.4 274.7,199.9 273.3,198.0 272.6,195.2" fill="none" stroke="rgb(215,215,215)" stroke-width="0.98"/><polyline points="235.8,271.5 235.8,269.9 234.6,269.5 237.2,269.0" fill="none" stroke="rgb(165,165,165)" stroke-width="0.90"/><polyline points="242.5,274.0 245.2,273.7 242.9,273.2 243.7,274.2" fill="none" stroke="rgb(233,233,233)" stroke-width="1.09"/><polygon points="268.3,270.2 270.4,271.0 269.6,274.7 267.8,276.1 265.5,273.5 265.4,270.7" fill="none" stroke="rgb(203,203,203)" stroke-width="0.71"/><polygon points="275.3,277.2 276.4,278.1 276.6,279.5 274.7,279.4 274.3,277.8" fill="none" stroke="rgb(115,115,115)" stroke-width="0.81"/><polyline points="258.5,245.6 259.9,246.4 261.5,249.2 264.1,250.7 264.5,247.6 262.5,248.6" fill="none" stroke="rgb(176,176,176)" stroke-width="0.93"/><polyline points="242.1,261.6 244.7,260.6 247.5,259.8 248.7,257.8 246.9,258.6 248.9,257.1" fill="none" stroke="rgb(232,232,232)" stroke-width="0.64"/><polyline points="221.5,229.8 221.6,228.1 220.3,225.0 220.2,221.6 218.3,223.3" fill="none" stroke="rgb(166,166,166)" stroke-width="0.81"/><polygon points="257.9,255.4 259.3,255.0 260.0,255.2 261.0,255.9 260.5,257.4 260.0,258.3 258.9,257.5 258.0,256.8" fill="none" stroke="rgb(114,114,114)" stroke-width="0.83"/><polygon points="285.8,228.2 285.5,229.5 285.3,230.0 284.3,230.4 283.3,229.5 282.8,228.6 282.9,228.1 284.0,227.9 285.2,227.3" fill="none" stroke="rgb(214,214,214)" stroke-width="0.67"/><polyline points="296.0,218.6 296.8,219.6 294.9,217.8" fill="none" stroke="rgb(235,235,235)" stroke-width="0.61"/><polygon points="286.6,257.0 288.0,258.0 287.9,259.2 287.0,259.6 286.1,260.2 284.7,259.8 285.2,258.3 285.7,256.9" fill="none" stroke="rgb(189,189,189)" stroke-width="0.62"/><polyline points="249.1,272.9 248.8,275.1 249.5,277.7 247.8,279.1 246.7,280.3" fill="none" stroke="rgb(201,201,201)" stroke-width="0.96"/><polygon points="294.2,236.2 294.4,236.9 293.1,238.2 292.3,238.2 291.3,236.9 291.0,235.6 292.0,234.5 293.6,234.4 294.1,234.9" fill="none" stroke="rgb(131,131,131)" stroke-width="0.69"/><polyline points="294.2,190.2 292.1,192.6 293.3,194.6" fill="none" stroke="rgb(171,171,171)" stroke-width="0.67"/><polygon points="284.5,247.3 283.3,245.5 285.5,244.2 287.4,244.6 286.7,247.4" fill="none" stroke="rgb(133,133,133)" stroke-width="0.41"/><polyline points="251.6,228.2 249.4,226.2 248.5,225.3 245.5,225.2 245.2,223.8 247.9,225.4" fill="none" stroke="rgb(175,175,175)" stroke-width="0.95"/><polygon points="296.6,202.8 298.9,205.4 298.4,207.7 294.2,207.7 293.5,204.2" fill="none" stroke="rgb(102,102,102)" stroke-width="0.72"/><polyline points="262.8,257.9 263.5,259.8 265.2,262.4 264.5,260.0" fill="none" stroke="rgb(197,197,197)" stroke-width="0.97"/><polygon points="267.9,273.4 269.2,273.9 269.7,274.7 269.6,276.0 268.5,276.6 267.3,276.3 266.2,275.1 266.9,274.3" fill="none" stroke="rgb(102,102,102)" stroke-width="0.69"/><polygon points="256.6,267.2 255.5,267.4 253.7,266.4 253.4,265.7 254.3,264.1 255.2,263.7 256.9,263.8 257.0,265.0 257.1,265.8" fill="none" stroke="rgb(150,150,150)" stroke-width="0.74"/><polygon points="239.9,279.9 239.5,278.2 240.0,277.0 242.2,276.4 243.4,278.6 241.8,280.1" fill="none" stroke="rgb(174,174,174)" stroke-width="0.76"/><polyline points="293.6,278.6 291.4,280.0 290.4,279.2 292.1,277.9 294.1,278.3" fill="none" stroke="rgb(191,191,191)" stroke-width="0.94"/><polygon points="264.1,245.0 264.6,246.4 263.1,246.5 261.8,246.1 262.1,244.8 263.5,244.4" fill="none" stroke="rgb(194,194,194)" stroke-width="0.69"/><polyline points="277.3,220.7 276.1,221.6 274.2,222.3 275.0,220.9" fill="none" stroke="rgb(200,200,200)" stroke-width="0.69"/><polyline points="250.4,267.3 249.4,266.5 250.6,268.6 248.7,270.7 249.6,271.7 252.1,270.2" fill="none" stroke="rgb(207,207,207)" stroke-width="0.90"/><polygon points="261.1,225.1 260.2,225.2 259.6,224.9 258.9,224.1 259.3,222.6 260.1,222.5 261.4,223.1 261.7,224.3" fill="none" stroke="rgb(218,218,218)" stroke-width="0.80"/><circle cx="272.7" cy="244.3" r="2.0" fill="none" stroke="rgb(163,163,163)" stroke-width="0.49"/><polyline points="257.9,274.2 256.0,275.0 255.9,272.3 259.3,272.1 256.7,270.1 255.4,269.1" fill="none" stroke="rgb(193,193,193)" stroke-width="0.73"/><polyline points="250.7,256.0 252.3,258.2 250.9,257.1" fill="none" stroke="rgb(218,218,218)" stroke-width="0.93"/><polyline points="247.2,223.3 249.1,225.2 251.8,227.0 253.0,225.0 250.8,223.5" fill="none" stroke="rgb(226,226,226)" stroke-width="1.01"/><polyline points="273.8,220.6 271.6,221.3 271.7,219.9" fill="none" stroke="rgb(177,177,177)" stroke-width="0.84"/><polyline points="243.3,252.1 240.2,250.5 238.7,251.8 238.8,249.9 239.4,251.2" fill="none" stroke="rgb(211,211,211)" stroke-width="1.01"/><polyline points="252.0,259.0 252.1,257.1 252.5,253.9 255.1,252.6 253.1,253.6 254.7,254.6" fill="none" stroke="rgb(167,167,167)" stroke-width="1.00"/><polyline points="270.4,274.9 268.0,276.0 267.3,277.0 264.1,276.6 260.8,276.6" fill="none" stroke="rgb(180,180,180)" stroke-width="0.73"/><circle cx="290.5" cy="211.3" r="1.1" fill="none" stroke="rgb(124,124,124)" stroke-width="0.44"/><polyline points="259.3,188.1 258.1,191.2 257.0,189.5 260.4,189.4 259.0,188.7 259.8,189.9" fill="none" stroke="rgb(148,148,148)" stroke-width="0.64"/><polygon points="259.9,237.5 260.2,237.0 260.8,236.1 262.5,236.3 262.7,236.8 263.2,237.7 262.0,238.7 261.2,238.7 260.3,239.1" fill="none" stroke="rgb(125,125,125)" stroke-width="0.72"/><polyline points="279.0,250.3 276.7,247.9 277.0,250.2 275.3,252.8 275.8,255.8 274.6,254.5" fill="none" stroke="rgb(198,198,198)" stroke-width="1.04"/><polyline points="243.4,232.4 246.2,233.7 247.2,236.5 244.1,235.2 242.8,234.8" fill="none" stroke="rgb(206,206,206)" stroke-width="0.92"/><polyline points="252.9,241.8 250.1,239.9 249.1,241.2 249.9,244.1 251.3,245.4 252.1,244.3" fill="none" stroke="rgb(213,213,213)" stroke-width="0.80"/><polyline points="283.3,231.9 283.6,233.4 282.3,232.9 284.2,232.3" fill="none" stroke="rgb(173,173,173)" stroke-width="0.63"/><polyline points="262.5,217.2 265.3,217.1 268.4,217.8 266.1,218.8" fill="none" stroke="rgb(164,164,164)" stroke-width="0.95"/><polygon points="248.7,273.1 246.8,273.5 246.8,271.6 247.1,271.2 247.2,269.8 248.9,270.0 250.1,270.4 250.8,271.7 250.4,273.1" fill="none" stroke="rgb(149,149,149)" stroke-width="0.62"/><polygon points="278.1,262.1 279.4,260.3 280.8,260.7 282.3,261.5 282.8,263.5 281.0,264.3 279.3,263.8" fill="none" stroke="rgb(185,185,185)" stroke-width="0.65"/><circle cx="279.6" cy="191.8" r="2.1" fill="none" stroke="rgb(181,181,181)" stroke-width="0.73"/><polyline points="280.9,272.7 281.5,273.9 282.5,275.8 285.9,274.9" fill="none" stroke="rgb(200,200,200)" stroke-width="1.08"/><polyline points="240.4,236.3 237.5,235.9 239.2,235.5" fill="none" stroke="rgb(157,157,157)" stroke-width="0.85"/><polyline points="240.3,233.4 241.6,233.7 243.8,234.1 243.1,236.4" fill="none" stroke="rgb(213,213,213)" stroke-width="0.75"/><polyline points="247.4,263.8 248.5,262.4 248.2,260.8 250.2,260.0" fill="none" stroke="rgb(166,166,166)" stroke-width="0.62"/><circle cx="264.1" cy="258.4" r="0.74" fill="rgb(152,152,152)"/><circle cx="283.2" cy="194.4" r="0.58" fill="rgb(193,193,193)"/><circle cx="247.2" cy="262.5" r="0.42" fill="rgb(200,200,200)"/><circle cx="274.5" cy="215.6" r="0.59" fill="rgb(223,223,223)"/><circle cx="282.4" cy="260.9" r="0.88" fill="rgb(167,167,167)"/><circle cx="277.6" cy="208.6" r="0.59" fill="rgb(233,233,233)"/><circle cx="277.2" cy="266.4" r="0.52" fill="rgb(190,190,190)"/><circle cx="254.7" cy="219.5" r="0.59" fill="rgb(169,169,169)"/><circle cx="281.5" cy="257.5" r="0.52" fill="rgb(181,181,181)"/><circle cx="275.2" cy="265.6" r="0.40" fill="rgb(150,150,150)"/><circle cx="225.4" cy="267.8" r="0.78" fill="rgb(212,212,212)"/><circle cx="218.0" cy="275.7" r="0.86" fill="rgb(233,233,233)"/><circle cx="271.3" cy="190.9" r="0.44" fill="rgb(168,168,168)"/><circle cx="281.6" cy="243.2" r="0.71" fill="rgb(159,159,159)"/><circle cx="287.7" cy="211.6" r="0.61" fill="rgb(168,168,168)"/><circle cx="284.4" cy="251.2" r="0.60" fill="rgb(247,247,247)"/><circle cx="257.9" cy="243.1" r="0.45" fill="rgb(208,208,208)"/><circle cx="289.1" cy="213.5" r="0.49" fill="rgb(223,223,223)"/><circle cx="259.3" cy="258.0" r="0.45" fill="rgb(243,243,243)"/><circle cx="279.5" cy="240.5" r="0.86" fill="rgb(170,170,170)"/><circle cx="294.6" cy="221.0" r="0.89" fill="rgb(248,248,248)"/><circle cx="267.3" cy="203.1" r="0.43" fill="rgb(208,208,208)"/><circle cx="231.0" cy="241.0" r="0.65" fill="rgb(228,228,228)"/><circle cx="294.9" cy="228.8" r="0.63" fill="rgb(184,184,184)"/><circle cx="243.9" cy="226.9" r="0.77" fill="rgb(191,191,191)"/><circle cx="264.5" cy="211.0" r="0.49" fill="rgb(206,206,206)"/><circle cx="252.2" cy="239.0" r="0.49" fill="rgb(170,170,170)"/><circle cx="281.4" cy="200.3" r="0.74" fill="rgb(192,192,192)"/><circle cx="254.8" cy="240.6" r="0.81" fill="rgb(179,179,179)"/><circle cx="234.4" cy="273.8" r="0.65" fill="rgb(235,235,235)"/><circle cx="258.3" cy="203.2" r="0.69" fill="rgb(159,159,159)"/><circle cx="282.1" cy="278.6" r="0.84" fill="rgb(193,193,193)"/><circle cx="282.4" cy="223.1" r="0.48" fill="rgb(162,162,162)"/><circle cx="264.5" cy="250.1" r="0.41" fill="rgb(221,221,221)"/><circle cx="296.2" cy="268.5" r="0.62" fill="rgb(232,232,232)"/><circle cx="265.1" cy="271.4" r="0.44" fill="rgb(234,234,234)"/><circle cx="277.2" cy="224.2" r="0.73" fill="rgb(243,243,243)"/><circle cx="259.8" cy="212.6" r="0.58" fill="rgb(195,195,195)"/><circle cx="263.3" cy="254.8" r="0.42" fill="rgb(180,180,180)"/><circle cx="264.9" cy="241.8" r="0.50" fill="rgb(208,208,208)"/><circle cx="211.8" cy="232.5" r="0.71" fill="rgb(168,168,168)"/><circle cx="234.6" cy="228.4" r="0.76" fill="rgb(234,234,234)"/><circle cx="237.2" cy="265.2" r="0.79" fill="rgb(166,166,166)"/><circle cx="249.1" cy="242.7" r="0.89" fill="rgb(242,242,242)"/><circle cx="289.8" cy="221.5" r="0.42" fill="rgb(180,180,180)"/><circle cx="241.0" cy="237.9" r="0.60" fill="rgb(158,158,158)"/><circle cx="285.4" cy="226.7" r="0.65" fill="rgb(202,202,202)"/><circle cx="220.7" cy="217.4" r="0.67" fill="rgb(242,242,242)"/><circle cx="237.8" cy="277.6" r="0.64" fill="rgb(177,177,177)"/><circle cx="297.5" cy="229.3" r="0.47" fill="rgb(231,231,231)"/><circle cx="282.1" cy="233.4" r="0.72" fill="rgb(232,232,232)"/><circle cx="274.8" cy="245.2" r="0.90" fill="rgb(213,213,213)"/><circle cx="275.6" cy="276.7" r="0.46" fill="rgb(154,154,154)"/><circle cx="282.3" cy="256.5" r="0.67" fill="rgb(189,189,189)"/><circle cx="283.6" cy="201.7" r="0.61" fill="rgb(189,189,189)"/><circle cx="294.8" cy="204.4" r="0.70" fill="rgb(228,228,228)"/><circle cx="293.2" cy="225.7" r="0.47" fill="rgb(151,151,151)"/><circle cx="269.9" cy="220.8" r="0.81" fill="rgb(225,225,225)"/><circle cx="258.8" cy="252.0" r="0.70" fill="rgb(150,150,150)"/><circle cx="295.0" cy="203.5" r="0.58" fill="rgb(186,186,186)"/><circle cx="242.7" cy="258.9" r="0.36" fill="rgb(201,201,201)"/><circle cx="237.3" cy="255.6" r="0.78" fill="rgb(177,177,177)"/><circle cx="252.7" cy="275.5" r="0.87" fill="rgb(246,246,246)"/><circle cx="280.4" cy="264.6" r="0.89" fill="rgb(225,225,225)"/><circle cx="276.0" cy="261.1" r="0.87" fill="rgb(202,202,202)"/><circle cx="220.0" cy="263.7" r="0.67" fill="rgb(165,165,165)"/><circle cx="290.2" cy="223.3" r="0.52" fill="rgb(175,175,175)"/><circle cx="284.0" cy="278.5" r="0.49" fill="rgb(227,227,227)"/><circle cx="250.2" cy="245.2" r="0.53" fill="rgb(164,164,164)"/><circle cx="248.7" cy="251.7" r="0.87" fill="rgb(237,237,237)"/><circle cx="279.4" cy="190.8" r="0.65" fill="rgb(160,160,160)"/><circle cx="295.6" cy="272.2" r="0.42" fill="rgb(247,247,247)"/><circle cx="241.0" cy="248.1" r="0.67" fill="rgb(177,177,177)"/><circle cx="285.4" cy="229.7" r="0.35" fill="rgb(231,231,231)"/><circle cx="287.0" cy="190.0" r="0.72" fill="rgb(240,240,240)"/><circle cx="262.2" cy="191.5" r="0.54" fill="rgb(150,150,150)"/><circle cx="273.1" cy="271.7" r="0.89" fill="rgb(153,153,153)"/><circle cx="262.9" cy="213.2" r="0.57" fill="rgb(154,154,154)"/><circle cx="272.1" cy="278.1" r="0.88" fill="rgb(220,220,220)"/><circle cx="245.7" cy="207.2" r="0.52" fill="rgb(223,223,223)"/><circle cx="248.6" cy="278.2" r="0.36" fill="rgb(196,196,196)"/><circle cx="246.2" cy="255.1" r="0.88" fill="rgb(238,238,238)"/><circle cx="259.0" cy="258.9" r="0.59" fill="rgb(194,194,194)"/><circle cx="285.4" cy="216.6" r="0.82" fill="rgb(173,173,173)"/><circle cx="251.5" cy="255.5" r="0.69" fill="rgb(213,213,213)"/><circle cx="240.7" cy="268.7" r="0.89" fill="rgb(198,198,198)"/><circle cx="277.7" cy="242.8" r="0.39" fill="rgb(236,236,236)"/><circle cx="277.4" cy="226.1" r="0.89" fill="rgb(180,180,180)"/><circle cx="293.4" cy="252.5" r="0.82" fill="rgb(193,193,193)"/><circle cx="224.0" cy="250.4" r="0.51" fill="rgb(197,197,197)"/><circle cx="266.9" cy="266.4" r="0.58" fill="rgb(162,162,162)"/><circle cx="270.7" cy="260.6" r="0.52" fill="rgb(177,177,177)"/><circle cx="293.8" cy="250.2" r="0.65" fill="rgb(194,194,194)"/><circle cx="276.1" cy="272.3" r="0.61" fill="rgb(225,225,225)"/><circle cx="286.4" cy="237.5" r="0.85" fill="rgb(246,246,246)"/><circle cx="248.0" cy="268.3" r="0.83" fill="rgb(158,158,158)"/><circle cx="281.4" cy="199.1" r="0.37" fill="rgb(206,206,206)"/><circle cx="276.7" cy="249.3" r="0.85" fill="rgb(232,232,232)"/><circle cx="276.7" cy="241.1" r="0.71" fill="rgb(189,189,189)"/><circle cx="274.9" cy="243.1" r="0.63" fill="rgb(172,172,172)"/><circle cx="282.8" cy="241.2" r="0.59" fill="rgb(234,234,234)"/><circle cx="266.5" cy="267.9" r="0.50" fill="rgb(178,178,178)"/><circle cx="252.8" cy="273.2" r="0.80" fill="rgb(180,180,180)"/><circle cx="224.2" cy="227.9" r="0.36" fill="rgb(203,203,203)"/><circle cx="252.6" cy="247.0" r="0.74" fill="rgb(210,210,210)"/><circle cx="281.2" cy="197.1" r="0.56" fill="rgb(239,239,239)"/><circle cx="247.6" cy="232.4" r="0.40" fill="rgb(152,152,152)"/><circle cx="293.1" cy="233.5" r="0.71" fill="rgb(176,176,176)"/><circle cx="288.3" cy="199.9" r="0.67" fill="rgb(194,194,194)"/><circle cx="233.8" cy="273.4" r="0.84" fill="rgb(237,237,237)"/><circle cx="285.3" cy="247.8" r="0.64" fill="rgb(220,220,220)"/><circle cx="263.5" cy="193.1" r="0.44" fill="rgb(248,248,248)"/><circle cx="272.1" cy="209.4" r="0.89" fill="rgb(192,192,192)"/><circle cx="246.3" cy="240.3" r="0.61" fill="rgb(228,228,228)"/><circle cx="256.9" cy="233.6" r="0.38" fill="rgb(176,176,176)"/><circle cx="280.8" cy="275.8" r="0.38" fill="rgb(180,180,180)"/><circle cx="224.9" cy="262.6" r="0.79" fill="rgb(154,154,154)"/><circle cx="240.5" cy="273.6" r="0.75" fill="rgb(158,158,158)"/><circle cx="269.0" cy="231.4" r="0.37" fill="rgb(216,216,216)"/><circle cx="238.3" cy="233.5" r="0.58" fill="rgb(170,170,170)"/><circle cx="251.6" cy="230.1" r="0.74" fill="rgb(208,208,208)"/><circle cx="237.3" cy="235.0" r="0.84" fill="rgb(212,212,212)"/><circle cx="276.8" cy="252.1" r="0.43" fill="rgb(156,156,156)"/><circle cx="239.3" cy="200.8" r="0.42" fill="rgb(154,154,154)"/><circle cx="296.1" cy="192.2" r="0.78" fill="rgb(176,176,176)"/><circle cx="253.9" cy="214.8" r="0.52" fill="rgb(152,152,152)"/><circle cx="215.8" cy="260.1" r="0.66" fill="rgb(217,217,217)"/><circle cx="279.4" cy="229.8" r="0.41" fill="rgb(156,156,156)"/><circle cx="245.6" cy="197.8" r="0.52" fill="rgb(215,215,215)"/><circle cx="235.0" cy="231.2" r="0.69" fill="rgb(169,169,169)"/><circle cx="276.7" cy="225.1" r="0.40" fill="rgb(166,166,166)"/><circle cx="250.3" cy="230.9" r="0.83" fill="rgb(237,237,237)"/><circle cx="255.3" cy="248.1" r="0.77" fill="rgb(240,240,240)"/><circle cx="251.1" cy="243.9" r="0.46" fill="rgb(212,212,212)"/><circle cx="272.3" cy="217.4" r="0.87" fill="rgb(226,226,226)"/><circle cx="269.7" cy="261.6" r="0.85" fill="rgb(239,239,239)"/><circle cx="285.8" cy="256.8" r="0.63" fill="rgb(222,222,222)"/><circle cx="265.3" cy="262.7" r="0.53" fill="rgb(223,223,223)"/><circle cx="256.6" cy="203.7" r="0.83" fill="rgb(243,243,243)"/><circle cx="288.2" cy="271.1" r="0.43" fill="rgb(224,224,224)"/><circle cx="230.1" cy="210.7" r="0.59" fill="rgb(171,171,171)"/><circle cx="248.8" cy="264.7" r="0.77" fill="rgb(247,247,247)"/><circle cx="283.5" cy="202.1" r="0.82" fill="rgb(208,208,208)"/><circle cx="260.8" cy="197.4" r="0.38" fill="rgb(248,248,248)"/><circle cx="256.4" cy="238.9" r="0.57" fill="rgb(171,171,171)"/><circle cx="285.7" cy="240.5" r="0.55" fill="rgb(222,222,222)"/><circle cx="253.7" cy="253.4" r="0.36" fill="rgb(157,157,157)"/><circle cx="257.0" cy="214.4" r="0.39" fill="rgb(157,157,157)"/><circle cx="283.4" cy="221.3" r="0.78" fill="rgb(161,161,161)"/><circle cx="270.3" cy="243.7" r="0.87" fill="rgb(182,182,182)"/><circle cx="235.6" cy="216.9" r="0.87" fill="rgb(180,180,180)"/><circle cx="241.4" cy="189.3" r="0.59" fill="rgb(176,176,176)"/><circle cx="289.1" cy="278.0" r="0.74" fill="rgb(158,158,158)"/><circle cx="248.6" cy="265.1" r="0.58" fill="rgb(158,158,158)"/><circle cx="244.8" cy="266.1" r="0.87" fill="rgb(219,219,219)"/><circle cx="246.6" cy="257.5" r="0.47" fill="rgb(214,214,214)"/><circle cx="278.6" cy="260.4" r="0.72" fill="rgb(225,225,225)"/><circle cx="271.3" cy="264.7" r="0.59" fill="rgb(235,235,235)"/><circle cx="247.1" cy="268.3" r="0.72" fill="rgb(218,218,218)"/><circle cx="288.1" cy="241.4" r="0.83" fill="rgb(222,222,222)"/><circle cx="268.4" cy="216.4" r="0.75" fill="rgb(248,248,248)"/><circle cx="220.5" cy="277.3" r="0.53" fill="rgb(161,161,161)"/><circle cx="269.6" cy="222.5" r="0.43" fill="rgb(233,233,233)"/><circle cx="280.5" cy="234.3" r="0.55" fill="rgb(165,165,165)"/><circle cx="254.0" cy="208.5" r="0.42" fill="rgb(154,154,154)"/><circle cx="288.4" cy="238.8" r="0.43" fill="rgb(229,229,229)"/><circle cx="235.1" cy="258.3" r="0.47" fill="rgb(198,198,198)"/><circle cx="295.5" cy="188.1" r="0.72" fill="rgb(249,249,249)"/><circle cx="236.3" cy="259.9" r="0.71" fill="rgb(150,150,150)"/><circle cx="265.7" cy="238.0" r="0.74" fill="rgb(208,208,208)"/><circle cx="254.2" cy="258.4" r="0.61" fill="rgb(172,172,172)"/><circle cx="260.7" cy="197.4" r="0.56" fill="rgb(187,187,187)"/><circle cx="248.0" cy="212.9" r="0.36" fill="rgb(239,239,239)"/><circle cx="238.4" cy="190.2" r="0.62" fill="rgb(227,227,227)"/><circle cx="248.4" cy="239.5" r="0.37" fill="rgb(197,197,197)"/><circle cx="245.4" cy="269.9" r="0.66" fill="rgb(228,228,228)"/><circle cx="256.6" cy="245.7" r="0.36" fill="rgb(164,164,164)"/><circle cx="260.7" cy="215.5" r="0.40" fill="rgb(217,217,217)"/><circle cx="297.2" cy="239.3" r="0.85" fill="rgb(211,211,211)"/><circle cx="259.8" cy="222.7" r="0.36" fill="rgb(161,161,161)"/><circle cx="287.6" cy="224.6" r="0.73" fill="rgb(174,174,174)"/><circle cx="259.1" cy="190.6" r="0.78" fill="rgb(167,167,167)"/><circle cx="258.7" cy="225.7" r="0.37" fill="rgb(226,226,226)"/><circle cx="271.9" cy="230.8" r="0.69" fill="rgb(199,199,199)"/><circle cx="223.6" cy="222.8" r="0.79" fill="rgb(208,208,208)"/><circle cx="240.7" cy="228.5" r="0.64" fill="rgb(179,179,179)"/><circle cx="251.2" cy="252.7" r="0.61" fill="rgb(192,192,192)"/><circle cx="232.1" cy="233.0" r="0.86" fill="rgb(177,177,177)"/><circle cx="265.2" cy="201.0" r="0.77" fill="rgb(245,245,245)"/><circle cx="244.5" cy="248.8" r="0.68" fill="rgb(169,169,169)"/><circle cx="261.4" cy="274.0" r="0.81" fill="rgb(247,247,247)"/><circle cx="247.6" cy="272.5" r="0.35" fill="rgb(226,226,226)"/><circle cx="289.0" cy="231.1" r="0.36" fill="rgb(199,199,199)"/><circle cx="210.4" cy="220.8" r="0.81" fill="rgb(225,225,225)"/><circle cx="297.2" cy="190.0" r="0.60" fill="rgb(183,183,183)"/><circle cx="280.3" cy="196.6" r="0.79" fill="rgb(189,189,189)"/><circle cx="259.0" cy="212.7" r="0.57" fill="rgb(174,174,174)"/><circle cx="278.6" cy="218.3" r="0.35" fill="rgb(161,161,161)"/><circle cx="292.9" cy="265.6" r="0.78" fill="rgb(211,211,211)"/><circle cx="281.4" cy="217.5" r="0.66" fill="rgb(159,159,159)"/><circle cx="272.8" cy="230.0" r="0.80" fill="rgb(158,158,158)"/><circle cx="220.0" cy="270.6" r="0.62" fill="rgb(231,231,231)"/><circle cx="291.7" cy="207.2" r="0.41" fill="rgb(164,164,164)"/><circle cx="248.4" cy="258.5" r="0.42" fill="rgb(215,215,215)"/><circle cx="276.7" cy="215.6" r="0.59" fill="rgb(229,229,229)"/><circle cx="284.8" cy="256.5" r="0.82" fill="rgb(213,213,213)"/><circle cx="253.0" cy="235.8" r="0.54" fill="rgb(158,158,158)"/><circle cx="273.1" cy="238.1" r="0.50" fill="rgb(163,163,163)"/><circle cx="221.2" cy="237.4" r="0.42" fill="rgb(191,191,191)"/><circle cx="211.9" cy="193.2" r="0.65" fill="rgb(165,165,165)"/><circle cx="240.6" cy="261.0" r="0.81" fill="rgb(240,240,240)"/><circle cx="261.4" cy="267.1" r="0.68" fill="rgb(241,241,241)"/><circle cx="239.7" cy="250.9" r="0.41" fill="rgb(171,171,171)"/><circle cx="287.6" cy="272.4" r="0.51" fill="rgb(242,242,242)"/><circle cx="267.2" cy="218.7" r="0.41" fill="rgb(158,158,158)"/><circle cx="281.1" cy="257.7" r="0.59" fill="rgb(165,165,165)"/><circle cx="271.4" cy="262.1" r="0.39" fill="rgb(223,223,223)"/><circle cx="227.1" cy="258.3" r="0.44" fill="rgb(244,244,244)"/><circle cx="281.2" cy="260.4" r="0.51" fill="rgb(164,164,164)"/><circle cx="248.8" cy="228.3" r="0.75" fill="rgb(191,191,191)"/><circle cx="265.5" cy="206" r="1.6" fill="rgb(240,240,240)"/><circle cx="226" cy="271" r="1.8" fill="rgb(235,235,235)"/><circle cx="233" cy="275" r="1.3" fill="rgb(220,220,220)"/><circle cx="226" cy="232" r="1.5" fill="rgb(200,200,200)"/></g></g><rect x="301.0" y="188.0" width="91.5" height="91.5" fill="#0b0a0a"/><g clip-path="url(#cp2)"><g filter="url(#bl0)"><polygon points="335.4,276.5 337.8,274.1 340.8,274.6 343.0,277.1 341.0,280.2 338.2,280.8 336.4,278.5" fill="rgb(36,36,36)"/><polygon points="377.2,236.1 379.9,241.2 377.4,244.2 374.2,244.7 372.8,245.3 367.4,241.9 368.9,239.2 368.7,236.7 371.8,235.1 374.8,234.0" fill="rgb(37,37,37)"/><polygon points="359.6,256.5 360.4,258.1 360.0,261.5 357.5,262.2 355.6,261.2 354.1,260.5 354.8,257.7 356.6,255.2" fill="rgb(32,32,32)"/><polygon points="384.9,227.3 381.8,225.1 380.9,218.9 383.8,217.2 387.8,215.6 393.2,218.3 393.8,222.7 388.8,227.3" fill="rgb(38,38,38)"/><polygon points="377.2,195.3 379.2,191.5 381.7,190.3 387.3,191.2 389.1,195.1 385.6,200.0 384.5,200.6 378.5,201.2 375.1,197.7" fill="rgb(60,60,60)"/><polygon points="383.7,210.6 385.2,208.4 390.3,210.5 391.3,213.8 390.5,217.7 388.2,218.5 384.1,219.3 381.6,215.1 381.5,213.7" fill="rgb(50,50,50)"/><polygon points="378.0,272.6 375.1,268.5 375.2,264.3 377.7,259.2 384.2,256.8 386.6,261.2 391.4,266.9 388.7,270.3 382.6,273.2" fill="rgb(60,60,60)"/><polygon points="361.3,229.3 357.8,227.8 357.2,224.6 358.0,222.2 360.2,219.5 364.5,219.4 366.2,221.8 366.6,225.3 364.6,228.6" fill="rgb(65,65,65)"/><polygon points="346.2,265.5 352.7,264.6 354.7,268.8 354.7,273.6 353.0,276.0 348.8,278.3 344.3,278.2 343.3,272.6 344.1,269.3" fill="rgb(50,50,50)"/></g><g filter="url(#bl1)"><polygon points="345.9,215.5 344.0,218.1 342.3,218.3 341.7,216.0 343.5,214.4" fill="rgb(144,144,144)"/><polygon points="329.5,218.0 328.5,218.1 327.7,218.3 327.1,217.5 328.2,216.4 329.2,215.8 329.4,216.9" fill="rgb(155,155,155)"/><polygon points="370.5,279.0 369.5,278.1 369.7,277.4 370.4,276.0 371.8,277.3 371.7,278.1" fill="rgb(87,87,87)"/><polygon points="368.6,209.0 369.5,206.9 371.2,207.0 372.0,207.7 372.5,209.7 370.5,210.5" fill="rgb(163,163,163)"/><polygon points="335.2,246.2 337.5,247.0 336.6,248.6 335.0,250.9 332.6,249.5 332.6,247.5 332.9,246.2" fill="rgb(130,130,130)"/><polygon points="316.5,191.1 315.4,189.3 316.4,187.9 318.6,188.2 318.2,190.8" fill="rgb(115,115,115)"/><polygon points="346.0,244.6 348.4,242.8 349.8,241.6 353.2,242.7 351.4,245.6 349.3,247.1" fill="rgb(139,139,139)"/><polygon points="374.0,253.5 376.4,250.2 380.3,251.7 379.4,255.8 375.4,257.3" fill="rgb(158,158,158)"/><polygon points="359.6,227.4 362.0,232.8 358.6,234.1 355.5,231.4" fill="rgb(179,179,179)"/><polygon points="339.1,204.3 337.4,200.2 340.7,197.7 342.0,201.8" fill="rgb(135,135,135)"/><polygon points="336.4,240.1 337.0,239.6 338.7,239.9 338.6,240.9 337.8,242.6 336.6,242.0 335.6,241.2" fill="rgb(183,183,183)"/><polygon points="310.3,263.2 308.3,263.7 306.6,262.5 308.3,260.1 311.1,258.6 311.7,261.6" fill="rgb(138,138,138)"/><polygon points="359.1,214.7 359.7,217.0 357.7,217.8 355.6,216.4 357.0,213.9 358.2,212.8" fill="rgb(144,144,144)"/><polygon points="373.7,267.0 374.5,268.4 374.7,270.4 372.7,272.0 371.2,270.7 370.3,268.2 371.8,267.0" fill="rgb(124,124,124)"/><polygon points="315.9,229.4 316.7,230.3 315.7,231.9 313.8,231.6 313.3,229.8 314.3,228.2" fill="rgb(192,192,192)"/><polygon points="307.7,249.9 306.7,246.6 310.0,245.7 310.3,247.6" fill="rgb(117,117,117)"/><polygon points="380.3,190.0 379.3,189.0 379.7,187.4 382.3,187.4 382.0,189.6" fill="rgb(157,157,157)"/><polygon points="313.8,255.0 313.0,255.9 312.0,254.4 312.3,253.3 313.8,253.3" fill="rgb(162,162,162)"/><polygon points="316.3,210.1 319.3,209.2 319.6,211.5 318.4,213.8 316.2,213.4 314.1,212.1" fill="rgb(89,89,89)"/><polygon points="352.7,251.6 353.8,250.2 355.6,251.2 355.6,253.6 353.7,253.0" fill="rgb(100,100,100)"/></g><g filter="url(#bl2)"><polygon points="323.4,280.7 322.7,277.3 324.5,274.8 328.2,273.6 329.7,277.9 327.3,280.2" fill="none" stroke="rgb(195,195,195)" stroke-width="0.88"/><polyline points="333.5,207.4 331.3,208.8 328.5,209.2 329.2,212.5" fill="none" stroke="rgb(234,234,234)" stroke-width="0.97"/><polyline points="337.0,209.2 337.0,212.4 334.8,215.0 331.6,214.5 332.1,212.3 331.8,209.8" fill="none" stroke="rgb(188,188,188)" stroke-width="0.78"/><circle cx="358.5" cy="221.1" r="2.9" fill="none" stroke="rgb(103,103,103)" stroke-width="0.68"/><polyline points="332.8,217.6 333.6,216.5 332.3,216.4 333.9,215.1" fill="none" stroke="rgb(141,141,141)" stroke-width="0.90"/><polygon points="335.1,265.6 335.6,266.2 336.0,267.9 335.2,269.3 334.1,269.0 333.0,267.1 333.8,266.2" fill="none" stroke="rgb(177,177,177)" stroke-width="0.78"/><polyline points="355.5,262.6 353.3,264.3 353.2,261.0 354.5,262.0 356.4,263.0 355.0,260.7" fill="none" stroke="rgb(226,226,226)" stroke-width="1.10"/><circle cx="339.8" cy="239.9" r="2.2" fill="none" stroke="rgb(150,150,150)" stroke-width="0.64"/><polygon points="341.6,220.9 342.3,222.7 342.5,224.0 341.1,224.9 338.7,225.2 338.4,223.3 339.7,222.1" fill="none" stroke="rgb(194,194,194)" stroke-width="0.42"/><polygon points="301.8,268.8 304.2,265.6 306.3,265.3 307.8,267.8 309.4,270.4 307.5,273.3 303.8,273.4 301.5,270.0" fill="none" stroke="rgb(134,134,134)" stroke-width="0.73"/><circle cx="351.4" cy="243.7" r="2.2" fill="none" stroke="rgb(130,130,130)" stroke-width="0.54"/><polyline points="359.9,211.1 358.6,209.7 356.8,211.7 355.4,210.4" fill="none" stroke="rgb(187,187,187)" stroke-width="0.63"/><polyline points="352.4,271.9 351.6,270.3 349.7,270.6 350.6,269.5 349.2,272.7 351.0,273.9" fill="none" stroke="rgb(142,142,142)" stroke-width="0.86"/><polygon points="379.2,263.2 379.0,260.9 381.0,259.6 383.7,260.5 382.6,263.2 381.3,264.8" fill="none" stroke="rgb(128,128,128)" stroke-width="0.88"/><polyline points="376.5,267.2 378.2,267.6 378.5,264.2" fill="none" stroke="rgb(179,179,179)" stroke-width="0.80"/><circle cx="373.5" cy="250.6" r="1.5" fill="none" stroke="rgb(157,157,157)" stroke-width="0.79"/><circle cx="357.4" cy="202.8" r="2.5" fill="none" stroke="rgb(92,92,92)" stroke-width="0.70"/><circle cx="330.0" cy="196.4" r="1.6" fill="none" stroke="rgb(183,183,183)" stroke-width="0.70"/><polyline points="350.9,213.7 349.6,216.8 352.6,217.1 355.2,217.3" fill="none" stroke="rgb(151,151,151)" stroke-width="0.78"/><circle cx="332.5" cy="269.3" r="1.5" fill="none" stroke="rgb(186,186,186)" stroke-width="0.75"/><polyline points="386.8,250.4 384.8,249.2 382.3,248.9 382.0,250.2 385.0,249.0 382.8,247.9" fill="none" stroke="rgb(165,165,165)" stroke-width="1.06"/><polyline points="369.2,213.2 369.1,216.5 372.0,214.7 372.1,213.0" fill="none" stroke="rgb(180,180,180)" stroke-width="0.89"/><polygon points="326.9,248.7 326.8,250.4 325.0,251.0 324.3,249.8 324.7,248.4" fill="none" stroke="rgb(187,187,187)" stroke-width="0.74"/><polyline points="391.4,261.9 392.8,262.8 392.4,261.1 393.6,259.2" fill="none" stroke="rgb(233,233,233)" stroke-width="0.73"/><polyline points="361.8,264.3 361.3,266.3 359.7,263.4 361.0,266.6" fill="none" stroke="rgb(203,203,203)" stroke-width="0.79"/><polyline points="351.7,278.7 349.8,280.8 350.0,283.2" fill="none" stroke="rgb(219,219,219)" stroke-width="0.89"/><circle cx="364.6" cy="229.0" r="2.3" fill="none" stroke="rgb(187,187,187)" stroke-width="0.50"/><polyline points="319.8,270.9 321.0,269.1 323.7,269.7 325.5,268.7 324.3,270.2" fill="none" stroke="rgb(208,208,208)" stroke-width="0.77"/><polyline points="366.7,263.5 366.5,265.0 368.3,266.6 367.0,268.3" fill="none" stroke="rgb(147,147,147)" stroke-width="1.01"/><polyline points="373.9,242.8 371.7,243.0 370.5,244.6" fill="none" stroke="rgb(156,156,156)" stroke-width="0.84"/><polyline points="388.0,257.2 388.0,259.3 387.9,260.6" fill="none" stroke="rgb(144,144,144)" stroke-width="0.62"/><polyline points="312.4,205.0 314.6,207.4 316.8,208.8 317.9,207.3 314.8,206.8 316.1,206.0" fill="none" stroke="rgb(162,162,162)" stroke-width="0.83"/><polygon points="378.9,208.6 379.9,206.2 384.2,206.0 383.7,208.9 380.9,211.7" fill="none" stroke="rgb(168,168,168)" stroke-width="0.71"/><polyline points="328.3,244.1 326.5,241.8 327.9,238.8" fill="none" stroke="rgb(230,230,230)" stroke-width="0.78"/><polyline points="377.1,208.3 379.4,207.0 380.5,207.7 377.5,209.2" fill="none" stroke="rgb(154,154,154)" stroke-width="0.77"/><polyline points="344.5,197.4 344.6,195.9 343.2,195.3 342.0,192.4 342.0,194.2 344.2,194.2" fill="none" stroke="rgb(160,160,160)" stroke-width="1.03"/><polygon points="368.8,228.8 365.3,227.0 364.7,223.5 368.8,223.3 370.0,225.5" fill="none" stroke="rgb(191,191,191)" stroke-width="0.68"/><polygon points="339.1,231.2 340.2,233.7 340.3,236.7 338.1,236.6 335.1,235.8 336.2,232.3" fill="none" stroke="rgb(188,188,188)" stroke-width="0.70"/><polyline points="325.2,248.9 326.7,248.6 325.6,247.5 323.6,248.5" fill="none" stroke="rgb(199,199,199)" stroke-width="0.93"/><polyline points="353.5,237.2 350.4,238.6 351.4,236.8 352.2,239.3" fill="none" stroke="rgb(209,209,209)" stroke-width="0.87"/><polyline points="334.1,273.7 335.5,275.8 335.1,277.4 332.7,276.6" fill="none" stroke="rgb(150,150,150)" stroke-width="0.93"/><polyline points="366.7,263.2 368.2,264.6 371.2,263.9 373.9,264.6" fill="none" stroke="rgb(192,192,192)" stroke-width="0.91"/><polygon points="387.2,214.9 390.3,217.0 389.7,220.2 385.9,222.7 382.9,217.9" fill="none" stroke="rgb(218,218,218)" stroke-width="0.82"/><circle cx="346.4" cy="201.2" r="2.9" fill="none" stroke="rgb(145,145,145)" stroke-width="0.73"/><circle cx="386.6" cy="213.9" r="1.7" fill="none" stroke="rgb(119,119,119)" stroke-width="0.76"/><polygon points="386.5,199.6 389.4,202.0 387.4,205.0 382.8,205.0 381.8,201.0" fill="none" stroke="rgb(202,202,202)" stroke-width="0.75"/><circle cx="306.5" cy="194.9" r="2.4" fill="none" stroke="rgb(161,161,161)" stroke-width="0.63"/><circle cx="334.0" cy="201.0" r="2.1" fill="none" stroke="rgb(150,150,150)" stroke-width="0.73"/><polygon points="366.3,236.8 365.4,235.8 364.8,234.6 365.4,233.8 366.4,233.1 368.0,233.6 367.3,235.5" fill="none" stroke="rgb(102,102,102)" stroke-width="0.65"/><polyline points="346.4,270.3 343.9,271.5 344.4,272.8 347.0,273.9 348.8,272.1 349.7,269.7" fill="none" stroke="rgb(154,154,154)" stroke-width="1.05"/><polyline points="354.1,260.0 356.0,259.6 353.9,261.4 352.6,264.1 351.0,265.5 354.0,264.4" fill="none" stroke="rgb(148,148,148)" stroke-width="1.03"/><polyline points="382.4,190.8 383.6,191.1 384.5,193.1 383.6,189.9 383.1,188.7" fill="none" stroke="rgb(162,162,162)" stroke-width="1.02"/><polyline points="335.8,269.8 335.7,273.0 338.2,274.9 337.8,276.5 334.6,275.3 335.3,276.9" fill="none" stroke="rgb(168,168,168)" stroke-width="0.60"/><polyline points="331.9,276.0 330.0,277.3 331.4,280.1 330.9,282.1 329.4,279.9 328.8,282.8" fill="none" stroke="rgb(157,157,157)" stroke-width="0.84"/><polyline points="362.8,271.2 364.6,269.4 365.4,271.0 365.9,273.6 366.3,272.1 366.1,274.4" fill="none" stroke="rgb(200,200,200)" stroke-width="0.64"/><polyline points="304.9,229.6 302.7,227.0 302.9,225.1" fill="none" stroke="rgb(233,233,233)" stroke-width="0.76"/><polyline points="346.7,206.3 343.9,205.5 344.1,208.6" fill="none" stroke="rgb(239,239,239)" stroke-width="0.77"/><polygon points="382.1,211.0 382.3,212.4 381.9,213.3 381.1,214.1 379.6,213.8 378.8,212.4 379.4,211.7 380.0,210.6 381.6,210.4" fill="none" stroke="rgb(142,142,142)" stroke-width="0.51"/><polygon points="321.8,201.7 320.4,202.5 319.1,201.5 318.0,199.9 319.1,198.4 321.1,197.9 322.0,198.1 323.5,199.6" fill="none" stroke="rgb(172,172,172)" stroke-width="0.59"/><polyline points="369.1,238.5 367.2,236.7 365.5,235.2 364.7,236.1" fill="none" stroke="rgb(188,188,188)" stroke-width="0.93"/><polygon points="365.1,268.0 364.1,269.4 362.4,270.3 361.0,269.1 360.6,266.8 362.9,265.7 364.3,266.6" fill="none" stroke="rgb(143,143,143)" stroke-width="0.78"/><polygon points="343.2,248.3 344.9,248.1 346.0,249.8 346.2,252.0 343.5,252.7 342.3,250.8 340.9,249.4" fill="none" stroke="rgb(182,182,182)" stroke-width="0.46"/><polyline points="334.3,229.8 333.0,229.5 332.4,231.8" fill="none" stroke="rgb(161,161,161)" stroke-width="0.97"/><polyline points="352.1,237.2 353.9,238.7 352.0,237.8 353.4,238.6 353.9,240.0 353.1,238.1" fill="none" stroke="rgb(226,226,226)" stroke-width="0.92"/><circle cx="391.7" cy="201.7" r="1.3" fill="none" stroke="rgb(143,143,143)" stroke-width="0.51"/><circle cx="351.8" cy="237.3" r="3.0" fill="none" stroke="rgb(116,116,116)" stroke-width="0.64"/><polyline points="317.6,240.9 316.0,242.8 317.8,244.3" fill="none" stroke="rgb(194,194,194)" stroke-width="1.06"/><circle cx="351.2" cy="222.8" r="2.4" fill="none" stroke="rgb(138,138,138)" stroke-width="0.58"/><polyline points="379.9,258.1 381.7,258.3 381.5,260.6" fill="none" stroke="rgb(244,244,244)" stroke-width="1.03"/><polyline points="383.9,200.9 382.4,201.2 383.9,198.1 385.3,201.2 382.9,201.8" fill="none" stroke="rgb(242,242,242)" stroke-width="1.00"/><polygon points="333.7,203.3 330.5,205.1 328.2,206.4 326.4,203.9 326.7,201.2 329.0,198.7 331.3,199.7" fill="none" stroke="rgb(110,110,110)" stroke-width="0.48"/><polyline points="369.2,232.8 371.1,232.0 370.0,229.9 371.3,232.7" fill="none" stroke="rgb(219,219,219)" stroke-width="0.63"/><polygon points="349.4,196.3 348.4,196.0 347.8,195.5 348.3,193.9 348.2,193.0 349.1,193.2 350.2,193.1 350.7,194.6 350.0,195.2" fill="none" stroke="rgb(107,107,107)" stroke-width="0.58"/><polyline points="325.5,237.7 326.9,238.4 325.3,237.1 327.5,235.2" fill="none" stroke="rgb(165,165,165)" stroke-width="0.99"/><polygon points="382.2,258.8 384.8,257.8 387.8,262.6 384.8,266.7 380.3,266.1 379.7,261.9" fill="none" stroke="rgb(170,170,170)" stroke-width="0.72"/><polygon points="331.3,214.2 328.0,213.3 327.9,210.4 328.9,207.9 333.0,207.2 335.5,208.8 335.7,212.0" fill="none" stroke="rgb(144,144,144)" stroke-width="0.45"/><circle cx="347.8" cy="219.1" r="2.0" fill="none" stroke="rgb(194,194,194)" stroke-width="0.71"/><circle cx="351.6" cy="199.6" r="2.1" fill="none" stroke="rgb(141,141,141)" stroke-width="0.69"/><polyline points="301.7,243.5 303.8,244.7 304.2,242.5 304.1,244.3 302.5,246.4" fill="none" stroke="rgb(215,215,215)" stroke-width="1.05"/><circle cx="372.8" cy="202.8" r="1.1" fill="none" stroke="rgb(184,184,184)" stroke-width="0.73"/><polyline points="370.6,271.1 369.3,268.7 367.7,269.2 364.7,267.7 367.0,267.6" fill="none" stroke="rgb(182,182,182)" stroke-width="1.04"/><polyline points="308.0,279.0 308.4,276.9 309.7,277.9 308.3,276.1 309.6,278.2 310.9,279.2" fill="none" stroke="rgb(167,167,167)" stroke-width="0.71"/><circle cx="347.3" cy="225.2" r="1.9" fill="none" stroke="rgb(107,107,107)" stroke-width="0.61"/><circle cx="392.0" cy="244.7" r="1.9" fill="none" stroke="rgb(122,122,122)" stroke-width="0.56"/><polygon points="336.3,253.0 335.4,253.5 334.5,252.9 334.6,252.2 335.3,251.3 336.6,252.3" fill="none" stroke="rgb(155,155,155)" stroke-width="0.66"/><polygon points="365.6,275.6 366.7,273.3 368.3,273.6 370.0,274.4 369.9,276.3 369.5,278.8 367.9,279.8 366.2,279.5 365.0,277.5" fill="none" stroke="rgb(104,104,104)" stroke-width="0.66"/><polyline points="349.4,217.6 349.5,216.2 349.4,217.8" fill="none" stroke="rgb(177,177,177)" stroke-width="0.93"/><polyline points="347.4,202.8 346.1,206.0 347.2,203.7 350.1,202.5 351.0,201.6" fill="none" stroke="rgb(202,202,202)" stroke-width="0.68"/><circle cx="308.2" cy="233.0" r="2.3" fill="none" stroke="rgb(122,122,122)" stroke-width="0.46"/><polyline points="376.9,222.0 376.7,220.3 376.5,222.8 377.9,222.2 377.2,220.7 374.4,222.4" fill="none" stroke="rgb(143,143,143)" stroke-width="0.80"/><polyline points="326.5,275.6 325.1,276.4 323.9,274.8 326.9,273.2 324.2,271.9 323.7,270.8" fill="none" stroke="rgb(238,238,238)" stroke-width="1.08"/><polygon points="388.3,235.4 387.5,232.8 390.5,232.5 391.5,234.4 390.3,236.0" fill="none" stroke="rgb(149,149,149)" stroke-width="0.63"/><polyline points="313.3,276.8 311.7,277.8 309.6,279.8 312.9,279.6 313.9,281.9" fill="none" stroke="rgb(237,237,237)" stroke-width="1.08"/><polyline points="369.1,220.7 372.0,218.7 372.8,216.6 373.6,215.4 374.3,214.1 373.6,211.8" fill="none" stroke="rgb(222,222,222)" stroke-width="1.01"/><circle cx="387.3" cy="220.9" r="1.1" fill="none" stroke="rgb(98,98,98)" stroke-width="0.72"/><polygon points="339.2,211.5 336.4,212.5 334.1,210.5 334.1,206.8 336.6,205.0 340.5,205.9 341.0,208.8" fill="none" stroke="rgb(110,110,110)" stroke-width="0.41"/><polygon points="359.5,245.0 359.4,245.8 357.8,247.1 356.4,245.5 356.0,244.0 357.3,243.1 359.5,243.1" fill="none" stroke="rgb(211,211,211)" stroke-width="0.56"/><polyline points="328.2,240.9 324.9,241.9 326.5,242.6" fill="none" stroke="rgb(222,222,222)" stroke-width="0.80"/><polygon points="357.8,186.2 359.8,188.2 359.5,190.2 357.1,191.5 354.2,191.2 354.8,187.0" fill="none" stroke="rgb(140,140,140)" stroke-width="0.43"/><polyline points="374.8,208.6 373.5,209.7 372.3,207.8 373.4,208.5" fill="none" stroke="rgb(202,202,202)" stroke-width="0.94"/><circle cx="365.3" cy="238.7" r="2.1" fill="none" stroke="rgb(136,136,136)" stroke-width="0.77"/><polyline points="355.6,241.9 356.8,238.7 359.3,238.1 356.9,236.9" fill="none" stroke="rgb(160,160,160)" stroke-width="0.70"/><circle cx="333.7" cy="250.9" r="1.7" fill="none" stroke="rgb(178,178,178)" stroke-width="0.79"/><circle cx="385.2" cy="275.3" r="2.9" fill="none" stroke="rgb(191,191,191)" stroke-width="0.74"/><circle cx="350.7" cy="233.5" r="1.3" fill="none" stroke="rgb(145,145,145)" stroke-width="0.57"/><polyline points="335.9,221.3 333.3,222.4 331.7,219.3 330.1,220.1" fill="none" stroke="rgb(192,192,192)" stroke-width="0.65"/><polyline points="325.1,232.4 323.1,234.9 320.1,234.5 320.6,235.8 322.4,236.2 324.2,235.6" fill="none" stroke="rgb(172,172,172)" stroke-width="0.71"/><polygon points="391.5,228.1 391.9,230.3 390.9,234.4 389.1,236.0 386.4,233.4 383.9,230.2 384.4,228.6 388.1,227.6" fill="none" stroke="rgb(157,157,157)" stroke-width="0.77"/><polygon points="343.8,272.7 342.0,272.1 341.5,270.3 343.4,270.0 344.2,271.0" fill="none" stroke="rgb(211,211,211)" stroke-width="0.72"/><circle cx="371.3" cy="194.4" r="2.5" fill="none" stroke="rgb(131,131,131)" stroke-width="0.48"/><circle cx="301.3" cy="193.8" r="0.55" fill="rgb(187,187,187)"/><circle cx="347.7" cy="218.8" r="0.62" fill="rgb(236,236,236)"/><circle cx="352.3" cy="243.6" r="0.42" fill="rgb(163,163,163)"/><circle cx="328.5" cy="191.8" r="0.49" fill="rgb(226,226,226)"/><circle cx="363.6" cy="205.6" r="0.51" fill="rgb(181,181,181)"/><circle cx="379.7" cy="225.3" r="0.74" fill="rgb(200,200,200)"/><circle cx="355.6" cy="210.1" r="0.79" fill="rgb(176,176,176)"/><circle cx="331.7" cy="268.4" r="0.49" fill="rgb(162,162,162)"/><circle cx="366.0" cy="253.9" r="0.64" fill="rgb(179,179,179)"/><circle cx="322.2" cy="213.6" r="0.56" fill="rgb(216,216,216)"/><circle cx="388.2" cy="194.1" r="0.83" fill="rgb(200,200,200)"/><circle cx="343.3" cy="200.9" r="0.39" fill="rgb(159,159,159)"/><circle cx="311.4" cy="219.1" r="0.64" fill="rgb(156,156,156)"/><circle cx="353.4" cy="277.8" r="0.59" fill="rgb(207,207,207)"/><circle cx="351.4" cy="229.6" r="0.55" fill="rgb(161,161,161)"/><circle cx="348.3" cy="247.1" r="0.72" fill="rgb(248,248,248)"/><circle cx="327.3" cy="193.6" r="0.65" fill="rgb(172,172,172)"/><circle cx="373.5" cy="263.9" r="0.70" fill="rgb(176,176,176)"/><circle cx="303.5" cy="261.1" r="0.89" fill="rgb(247,247,247)"/><circle cx="387.4" cy="248.5" r="0.59" fill="rgb(220,220,220)"/><circle cx="357.7" cy="211.4" r="0.79" fill="rgb(179,179,179)"/><circle cx="332.4" cy="194.1" r="0.47" fill="rgb(191,191,191)"/><circle cx="360.8" cy="249.3" r="0.56" fill="rgb(179,179,179)"/><circle cx="367.1" cy="248.8" r="0.37" fill="rgb(163,163,163)"/><circle cx="371.6" cy="201.8" r="0.88" fill="rgb(202,202,202)"/><circle cx="348.8" cy="216.8" r="0.62" fill="rgb(188,188,188)"/><circle cx="341.2" cy="239.0" r="0.68" fill="rgb(234,234,234)"/><circle cx="342.7" cy="251.6" r="0.85" fill="rgb(158,158,158)"/><circle cx="379.4" cy="188.6" r="0.59" fill="rgb(164,164,164)"/><circle cx="328.8" cy="222.4" r="0.75" fill="rgb(206,206,206)"/><circle cx="329.8" cy="265.9" r="0.75" fill="rgb(202,202,202)"/><circle cx="317.7" cy="209.4" r="0.90" fill="rgb(189,189,189)"/><circle cx="359.3" cy="210.9" r="0.61" fill="rgb(180,180,180)"/><circle cx="357.6" cy="252.4" r="0.53" fill="rgb(233,233,233)"/><circle cx="335.7" cy="244.8" r="0.62" fill="rgb(156,156,156)"/><circle cx="345.9" cy="229.1" r="0.36" fill="rgb(244,244,244)"/><circle cx="340.0" cy="254.4" r="0.42" fill="rgb(168,168,168)"/><circle cx="383.9" cy="255.4" r="0.63" fill="rgb(180,180,180)"/><circle cx="304.2" cy="219.5" r="0.40" fill="rgb(214,214,214)"/><circle cx="383.8" cy="193.0" r="0.69" fill="rgb(237,237,237)"/><circle cx="332.3" cy="199.2" r="3.8" fill="none" stroke="rgb(190,190,190)" stroke-width="1.0"/><circle cx="379.6" cy="201.9" r="1.8" fill="rgb(235,235,235)"/><circle cx="320.8" cy="241.5" r="1.9" fill="rgb(240,240,240)"/><circle cx="311.5" cy="253.0" r="1.6" fill="rgb(230,230,230)"/><circle cx="381.5" cy="239.0" r="1.6" fill="rgb(220,220,220)"/><circle cx="348.8" cy="272.5" r="7.5" fill="none" stroke="rgb(140,140,140)" stroke-width="1.6"/><circle cx="348.8" cy="272.5" r="3.0" fill="none" stroke="rgb(110,110,110)" stroke-width="1.2"/><circle cx="306.5" cy="229.6" r="1.5" fill="rgb(230,230,230)"/><circle cx="339.2" cy="240.4" r="2.8" fill="none" stroke="rgb(170,170,170)" stroke-width="0.8"/><circle cx="325" cy="200" r="2.5" fill="none" stroke="rgb(120,120,120)" stroke-width="0.7"/><circle cx="371" cy="216" r="1.3" fill="rgb(210,210,210)"/><circle cx="384" cy="262" r="6" fill="none" stroke="rgb(120,120,120)" stroke-width="1.0"/><circle cx="361" cy="247" r="1.4" fill="rgb(220,220,220)"/></g></g><g transform="translate(269.40 197.50) rotate(100)"><path d="M-3.8,-1.6 L0.4,-1.6 L0.4,-4.0 L4.3,0 L0.4,4.0 L0.4,1.6 L-3.8,1.6 Z" fill="#e5304a" stroke="#f06a80" stroke-width="0.5"/></g><g transform="translate(281.50 208.50) rotate(135)"><path d="M-3.8,-1.6 L0.4,-1.6 L0.4,-4.0 L4.3,0 L0.4,4.0 L0.4,1.6 L-3.8,1.6 Z" fill="#e5304a" stroke="#f06a80" stroke-width="0.5"/></g><g transform="translate(238.00 218.20) rotate(45)"><path d="M-3.8,-1.6 L0.4,-1.6 L0.4,-4.0 L4.3,0 L0.4,4.0 L0.4,1.6 L-3.8,1.6 Z" fill="#e5304a" stroke="#f06a80" stroke-width="0.5"/></g><g transform="translate(254.60 242.70) rotate(30)"><path d="M-3.8,-1.6 L0.4,-1.6 L0.4,-4.0 L4.3,0 L0.4,4.0 L0.4,1.6 L-3.8,1.6 Z" fill="#e5304a" stroke="#f06a80" stroke-width="0.5"/></g><g transform="translate(234.60 248.00) rotate(30)"><path d="M-3.8,-1.6 L0.4,-1.6 L0.4,-4.0 L4.3,0 L0.4,4.0 L0.4,1.6 L-3.8,1.6 Z" fill="#e5304a" stroke="#f06a80" stroke-width="0.5"/></g><g transform="translate(272.30 258.50) rotate(150)"><path d="M-3.8,-1.6 L0.4,-1.6 L0.4,-4.0 L4.3,0 L0.4,4.0 L0.4,1.6 L-3.8,1.6 Z" fill="#e5304a" stroke="#f06a80" stroke-width="0.5"/></g><g transform="translate(340.00 199.00) rotate(10)"><path d="M-3.8,-1.6 L0.4,-1.6 L0.4,-4.0 L4.3,0 L0.4,4.0 L0.4,1.6 L-3.8,1.6 Z" fill="#e5304a" stroke="#f06a80" stroke-width="0.5"/></g><g transform="translate(364.20 204.50) rotate(130)"><path d="M-3.8,-1.6 L0.4,-1.6 L0.4,-4.0 L4.3,0 L0.4,4.0 L0.4,1.6 L-3.8,1.6 Z" fill="#e5304a" stroke="#f06a80" stroke-width="0.5"/></g><g transform="translate(355.70 244.40) rotate(190)"><path d="M-3.8,-1.6 L0.4,-1.6 L0.4,-4.0 L4.3,0 L0.4,4.0 L0.4,1.6 L-3.8,1.6 Z" fill="#e5304a" stroke="#f06a80" stroke-width="0.5"/></g>
<line x1="443.90" y1="172.20" x2="443.90" y2="275.90" stroke="#231f20" stroke-width="1.2"/>
<line x1="440.90" y1="275.40" x2="516.00" y2="275.40" stroke="#231f20" stroke-width="1.2"/>
<line x1="441.30" y1="275.60" x2="443.90" y2="275.60" stroke="#231f20" stroke-width="1.0"/>
<text x="437.40" y="278.32" font-size="7.9" text-anchor="end" fill="#231f20">0</text>
<line x1="441.30" y1="250.63" x2="443.90" y2="250.63" stroke="#231f20" stroke-width="1.0"/>
<text x="437.40" y="253.34" font-size="7.9" text-anchor="end" fill="#231f20">5</text>
<line x1="441.30" y1="225.65" x2="443.90" y2="225.65" stroke="#231f20" stroke-width="1.0"/>
<text x="437.40" y="228.37" font-size="7.9" text-anchor="end" fill="#231f20">10</text>
<line x1="441.30" y1="200.68" x2="443.90" y2="200.68" stroke="#231f20" stroke-width="1.0"/>
<text x="437.40" y="203.39" font-size="7.9" text-anchor="end" fill="#231f20">15</text>
<line x1="441.30" y1="175.70" x2="443.90" y2="175.70" stroke="#231f20" stroke-width="1.0"/>
<text x="437.40" y="178.42" font-size="7.9" text-anchor="end" fill="#231f20">20</text>
<rect x="457.20" y="219.80" width="17.30" height="55.60" fill="#8b9ac0"/>
<rect x="494.00" y="238.80" width="17.50" height="36.60" fill="#e78c7f"/>
<line x1="465.70" y1="275.40" x2="465.70" y2="277.80" stroke="#231f20" stroke-width="1.0"/>
<line x1="502.60" y1="275.40" x2="502.60" y2="277.80" stroke="#231f20" stroke-width="1.0"/>
<text x="465.70" y="288.02" font-size="8.2" text-anchor="middle" fill="#231f20" textLength="12.60" lengthAdjust="spacingAndGlyphs">WT</text>
<text x="503.00" y="288.02" font-size="8.2" text-anchor="middle" fill="#231f20" textLength="33.20" lengthAdjust="spacingAndGlyphs">Mnk1 KO</text>
<line x1="465.70" y1="168.00" x2="502.80" y2="168.00" stroke="#231f20" stroke-width="1.0"/>
<line x1="465.70" y1="165.50" x2="465.70" y2="170.50" stroke="#231f20" stroke-width="1.0"/>
<line x1="502.80" y1="165.50" x2="502.80" y2="170.50" stroke="#231f20" stroke-width="1.0"/>
<path d="M484.20,160.35L484.20,163.85M485.72,161.22L482.68,162.97M485.72,162.97L482.68,161.22" stroke="#231f20" stroke-width="0.85" fill="none"/>
<circle cx="484.20" cy="162.10" r="0.9" fill="#231f20"/>
<circle cx="465.70" cy="176.30" r="1.5" fill="#184a86"/>
<circle cx="462.10" cy="210.40" r="1.5" fill="#184a86"/>
<circle cx="469.20" cy="210.40" r="1.5" fill="#184a86"/>
<circle cx="462.10" cy="216.30" r="1.5" fill="#184a86"/>
<circle cx="469.20" cy="216.30" r="1.5" fill="#184a86"/>
<circle cx="462.10" cy="225.70" r="1.5" fill="#184a86"/>
<circle cx="469.20" cy="225.70" r="1.5" fill="#184a86"/>
<circle cx="465.70" cy="230.70" r="1.5" fill="#184a86"/>
<circle cx="465.70" cy="235.70" r="1.5" fill="#184a86"/>
<circle cx="465.70" cy="250.40" r="1.5" fill="#184a86"/>
<line x1="465.70" y1="213.10" x2="465.70" y2="222.00" stroke="#231f20" stroke-width="1.0"/>
<line x1="460.40" y1="213.10" x2="471.00" y2="213.10" stroke="#231f20" stroke-width="1.0"/>
<line x1="460.40" y1="222.00" x2="471.00" y2="222.00" stroke="#231f20" stroke-width="1.0"/>
<rect x="501.40" y="224.20" width="2.80" height="2.80" fill="#c3123d"/>
<rect x="494.40" y="229.30" width="2.80" height="2.80" fill="#c3123d"/>
<rect x="501.40" y="229.30" width="2.80" height="2.80" fill="#c3123d"/>
<rect x="508.50" y="229.30" width="2.80" height="2.80" fill="#c3123d"/>
<rect x="501.40" y="238.70" width="2.80" height="2.80" fill="#c3123d"/>
<rect x="494.40" y="244.00" width="2.80" height="2.80" fill="#c3123d"/>
<rect x="501.40" y="244.00" width="2.80" height="2.80" fill="#c3123d"/>
<rect x="508.50" y="244.00" width="2.80" height="2.80" fill="#c3123d"/>
<rect x="501.40" y="259.00" width="2.80" height="2.80" fill="#c3123d"/>
<line x1="502.80" y1="235.70" x2="502.80" y2="241.80" stroke="#5a6a70" stroke-width="0.9"/>
<line x1="497.50" y1="235.70" x2="508.10" y2="235.70" stroke="#5a6a70" stroke-width="0.9"/>
<line x1="497.50" y1="241.80" x2="508.10" y2="241.80" stroke="#5a6a70" stroke-width="0.9"/>
<text x="411.90" y="223.90" font-size="9.0" text-anchor="middle" fill="#231f20" textLength="75.60" lengthAdjust="spacingAndGlyphs" transform="rotate(-90 411.90 223.90)">% Proplatelet forming</text>
<text x="423.10" y="223.30" font-size="9.0" text-anchor="middle" fill="#231f20" textLength="54.90" lengthAdjust="spacingAndGlyphs" transform="rotate(-90 423.10 223.30)">MKs/visual field</text>
<text x="87.95" y="316.24" font-size="11.4" text-anchor="start" fill="#231f20" font-weight="bold">E</text>
<line x1="128.10" y1="320.70" x2="128.10" y2="423.95" stroke="#231f20" stroke-width="1.2"/>
<line x1="125.90" y1="423.50" x2="244.40" y2="423.50" stroke="#231f20" stroke-width="1.2"/>
<line x1="125.50" y1="423.50" x2="128.10" y2="423.50" stroke="#231f20" stroke-width="1.0"/>
<text x="121.60" y="426.36" font-size="8.3" text-anchor="end" fill="#231f20" textLength="3.55" lengthAdjust="spacingAndGlyphs">0</text>
<line x1="125.50" y1="390.50" x2="128.10" y2="390.50" stroke="#231f20" stroke-width="1.0"/>
<text x="121.60" y="393.36" font-size="8.3" text-anchor="end" fill="#231f20" textLength="3.55" lengthAdjust="spacingAndGlyphs">5</text>
<line x1="125.50" y1="357.50" x2="128.10" y2="357.50" stroke="#231f20" stroke-width="1.0"/>
<text x="121.60" y="360.36" font-size="8.3" text-anchor="end" fill="#231f20" textLength="7.10" lengthAdjust="spacingAndGlyphs">10</text>
<line x1="125.50" y1="324.50" x2="128.10" y2="324.50" stroke="#231f20" stroke-width="1.0"/>
<text x="121.60" y="327.36" font-size="8.3" text-anchor="end" fill="#231f20" textLength="7.10" lengthAdjust="spacingAndGlyphs">15</text>
<line x1="146.30" y1="423.50" x2="146.30" y2="426.10" stroke="#231f20" stroke-width="1.0"/>
<text x="146.30" y="435.62" font-size="8.2" text-anchor="middle" fill="#231f20">48</text>
<line x1="200.00" y1="423.50" x2="200.00" y2="426.10" stroke="#231f20" stroke-width="1.0"/>
<text x="200.00" y="435.62" font-size="8.2" text-anchor="middle" fill="#231f20">96</text>
<line x1="226.85" y1="423.50" x2="226.85" y2="426.10" stroke="#231f20" stroke-width="1.0"/>
<text x="226.85" y="435.62" font-size="8.2" text-anchor="middle" fill="#231f20">120</text>
<text x="173.00" y="449.20" font-size="9.4" text-anchor="start" fill="#231f20" textLength="27.20" lengthAdjust="spacingAndGlyphs">Time (h)</text>
<line x1="200.00" y1="352.30" x2="200.00" y2="360.50" stroke="#2a2a2a" stroke-width="1.0"/>
<line x1="198.20" y1="352.30" x2="201.80" y2="352.30" stroke="#2a2a2a" stroke-width="1.0"/>
<line x1="198.20" y1="360.50" x2="201.80" y2="360.50" stroke="#2a2a2a" stroke-width="1.0"/>
<line x1="200.00" y1="364.80" x2="200.00" y2="386.80" stroke="#2a2a2a" stroke-width="1.0"/>
<line x1="198.20" y1="364.80" x2="201.80" y2="364.80" stroke="#2a2a2a" stroke-width="1.0"/>
<line x1="198.20" y1="386.80" x2="201.80" y2="386.80" stroke="#2a2a2a" stroke-width="1.0"/>
<line x1="226.85" y1="368.50" x2="226.85" y2="382.80" stroke="#2a2a2a" stroke-width="1.0"/>
<line x1="225.05" y1="368.50" x2="228.65" y2="368.50" stroke="#2a2a2a" stroke-width="1.0"/>
<line x1="225.05" y1="382.80" x2="228.65" y2="382.80" stroke="#2a2a2a" stroke-width="1.0"/>
<line x1="226.85" y1="382.20" x2="226.85" y2="395.40" stroke="#2a2a2a" stroke-width="1.0"/>
<line x1="225.05" y1="382.20" x2="228.65" y2="382.20" stroke="#2a2a2a" stroke-width="1.0"/>
<line x1="225.05" y1="395.40" x2="228.65" y2="395.40" stroke="#2a2a2a" stroke-width="1.0"/>
<polyline points="146.30,416.90 200.00,356.5 226.85,375.8" fill="none" stroke="#1d5079" stroke-width="1.3"/>
<polyline points="146.30,416.90 200.00,375.8 226.85,388.6" fill="none" stroke="#c4173f" stroke-width="1.3"/>
<circle cx="200.00" cy="356.50" r="1.9" fill="#1d5079"/>
<circle cx="226.85" cy="375.80" r="1.9" fill="#1d5079"/>
<rect x="144.50" y="415.10" width="3.60" height="3.60" fill="#b8122f"/>
<rect x="198.30" y="374.10" width="3.40" height="3.40" fill="#b8122f"/>
<rect x="225.15" y="386.90" width="3.40" height="3.40" fill="#b8122f"/>
<path d="M198.30,344.45L198.30,347.95M199.82,345.32L196.78,347.07M199.82,347.07L196.78,345.32" stroke="#231f20" stroke-width="0.85" fill="none"/>
<circle cx="198.30" cy="346.20" r="0.9" fill="#231f20"/>
<path d="M202.30,344.45L202.30,347.95M203.82,345.32L200.78,347.07M203.82,347.07L200.78,345.32" stroke="#231f20" stroke-width="0.85" fill="none"/>
<circle cx="202.30" cy="346.20" r="0.9" fill="#231f20"/>
<path d="M226.70,344.45L226.70,347.95M228.22,345.32L225.18,347.07M228.22,347.07L225.18,345.32" stroke="#231f20" stroke-width="0.85" fill="none"/>
<circle cx="226.70" cy="346.20" r="0.9" fill="#231f20"/>
<line x1="135.20" y1="326.00" x2="148.10" y2="326.00" stroke="#1d5079" stroke-width="1.1"/>
<circle cx="142.00" cy="326.00" r="2.3" fill="#124a7c"/>
<line x1="135.20" y1="336.80" x2="148.10" y2="336.80" stroke="#c4173f" stroke-width="1.1"/>
<rect x="139.80" y="334.60" width="4.40" height="4.40" fill="#c8102e"/>
<text x="150.90" y="328.71" font-size="7.6" text-anchor="start" fill="#231f20">WT</text>
<text x="150.90" y="340.01" font-size="7.6" text-anchor="start" fill="#231f20" textLength="32.30" lengthAdjust="spacingAndGlyphs">Mnk1 KO</text>
<text x="97.70" y="371.80" font-size="9.0" text-anchor="middle" fill="#231f20" textLength="47.80" lengthAdjust="spacingAndGlyphs" transform="rotate(-90 97.70 371.80)">Platelet count</text>
<text x="108.30" y="371.80" font-size="9.0" text-anchor="middle" fill="#231f20" textLength="77.00" lengthAdjust="spacingAndGlyphs" transform="rotate(-90 108.30 371.80)">(normalized to 48 hrs)</text>
<text x="280.15" y="316.04" font-size="11.4" text-anchor="start" fill="#231f20" font-weight="bold">F</text>
<line x1="314.60" y1="320.40" x2="314.60" y2="424.15" stroke="#231f20" stroke-width="1.2"/>
<line x1="312.40" y1="423.70" x2="431.10" y2="423.70" stroke="#231f20" stroke-width="1.2"/>
<line x1="312.00" y1="423.70" x2="314.60" y2="423.70" stroke="#231f20" stroke-width="1.0"/>
<text x="307.60" y="426.66" font-size="8.6" text-anchor="end" fill="#231f20" textLength="3.77" lengthAdjust="spacingAndGlyphs">0</text>
<line x1="312.00" y1="403.86" x2="314.60" y2="403.86" stroke="#231f20" stroke-width="1.0"/>
<text x="307.60" y="406.82" font-size="8.6" text-anchor="end" fill="#231f20" textLength="7.54" lengthAdjust="spacingAndGlyphs">20</text>
<line x1="312.00" y1="384.02" x2="314.60" y2="384.02" stroke="#231f20" stroke-width="1.0"/>
<text x="307.60" y="386.98" font-size="8.6" text-anchor="end" fill="#231f20" textLength="7.54" lengthAdjust="spacingAndGlyphs">40</text>
<line x1="312.00" y1="364.18" x2="314.60" y2="364.18" stroke="#231f20" stroke-width="1.0"/>
<text x="307.60" y="367.14" font-size="8.6" text-anchor="end" fill="#231f20" textLength="7.54" lengthAdjust="spacingAndGlyphs">60</text>
<line x1="312.00" y1="344.34" x2="314.60" y2="344.34" stroke="#231f20" stroke-width="1.0"/>
<text x="307.60" y="347.30" font-size="8.6" text-anchor="end" fill="#231f20" textLength="7.54" lengthAdjust="spacingAndGlyphs">80</text>
<line x1="312.00" y1="324.50" x2="314.60" y2="324.50" stroke="#231f20" stroke-width="1.0"/>
<text x="307.60" y="327.46" font-size="8.6" text-anchor="end" fill="#231f20" textLength="11.31" lengthAdjust="spacingAndGlyphs">100</text>
<line x1="320.20" y1="423.70" x2="320.20" y2="426.30" stroke="#231f20" stroke-width="1.0"/>
<text x="320.20" y="435.62" font-size="8.2" text-anchor="middle" fill="#231f20">0</text>
<line x1="351.15" y1="423.70" x2="351.15" y2="426.30" stroke="#231f20" stroke-width="1.0"/>
<text x="351.15" y="435.62" font-size="8.2" text-anchor="middle" fill="#231f20">24</text>
<line x1="382.10" y1="423.70" x2="382.10" y2="426.30" stroke="#231f20" stroke-width="1.0"/>
<text x="382.10" y="435.62" font-size="8.2" text-anchor="middle" fill="#231f20">48</text>
<line x1="413.05" y1="423.70" x2="413.05" y2="426.30" stroke="#231f20" stroke-width="1.0"/>
<text x="413.05" y="435.62" font-size="8.2" text-anchor="middle" fill="#231f20">72</text>
<text x="359.00" y="449.40" font-size="9.4" text-anchor="start" fill="#231f20" textLength="27.50" lengthAdjust="spacingAndGlyphs">Time (h)</text>
<line x1="320.20" y1="342.60" x2="320.20" y2="348.60" stroke="#2a2a2a" stroke-width="1.0"/>
<line x1="318.60" y1="342.60" x2="321.80" y2="342.60" stroke="#2a2a2a" stroke-width="1.0"/>
<line x1="318.60" y1="348.60" x2="321.80" y2="348.60" stroke="#2a2a2a" stroke-width="1.0"/>
<line x1="382.10" y1="376.20" x2="382.10" y2="388.30" stroke="#2a2a2a" stroke-width="1.0"/>
<line x1="380.50" y1="376.20" x2="383.70" y2="376.20" stroke="#2a2a2a" stroke-width="1.0"/>
<line x1="380.50" y1="388.30" x2="383.70" y2="388.30" stroke="#2a2a2a" stroke-width="1.0"/>
<line x1="382.10" y1="372.40" x2="382.10" y2="377.00" stroke="#2a2a2a" stroke-width="1.0"/>
<line x1="380.50" y1="372.40" x2="383.70" y2="372.40" stroke="#2a2a2a" stroke-width="1.0"/>
<line x1="380.50" y1="377.00" x2="383.70" y2="377.00" stroke="#2a2a2a" stroke-width="1.0"/>
<line x1="413.05" y1="403.80" x2="413.05" y2="414.70" stroke="#2a2a2a" stroke-width="1.0"/>
<line x1="411.45" y1="403.80" x2="414.65" y2="403.80" stroke="#2a2a2a" stroke-width="1.0"/>
<line x1="411.45" y1="414.70" x2="414.65" y2="414.70" stroke="#2a2a2a" stroke-width="1.0"/>
<line x1="413.05" y1="401.80" x2="413.05" y2="406.80" stroke="#2a2a2a" stroke-width="1.0"/>
<line x1="411.45" y1="401.80" x2="414.65" y2="401.80" stroke="#2a2a2a" stroke-width="1.0"/>
<line x1="411.45" y1="406.80" x2="414.65" y2="406.80" stroke="#2a2a2a" stroke-width="1.0"/>
<polyline points="320.20,345.6 382.10,381.0 413.05,409.8" fill="none" stroke="#1a5b70" stroke-width="1.3"/>
<polyline points="320.20,344.8 382.10,374.8 413.05,404.4" fill="none" stroke="#c4173f" stroke-width="1.3"/>
<circle cx="320.20" cy="345.60" r="1.8" fill="#1a5b70"/>
<circle cx="382.10" cy="381.00" r="1.8" fill="#1a5b70"/>
<circle cx="413.05" cy="409.80" r="1.8" fill="#1a5b70"/>
<rect x="318.50" y="343.10" width="3.40" height="3.40" fill="#b8122f"/>
<rect x="380.40" y="373.10" width="3.40" height="3.40" fill="#b8122f"/>
<rect x="411.35" y="402.70" width="3.40" height="3.40" fill="#b8122f"/>
<text x="321.70" y="338.10" font-size="9.0" text-anchor="middle" fill="#231f20" textLength="10.60" lengthAdjust="spacingAndGlyphs">NS</text>
<text x="382.10" y="369.00" font-size="9.0" text-anchor="middle" fill="#231f20" textLength="10.60" lengthAdjust="spacingAndGlyphs">NS</text>
<text x="413.10" y="395.90" font-size="9.0" text-anchor="middle" fill="#231f20" textLength="10.60" lengthAdjust="spacingAndGlyphs">NS</text>
<line x1="381.00" y1="326.00" x2="394.20" y2="326.00" stroke="#1a5b70" stroke-width="1.1"/>
<circle cx="387.60" cy="326.00" r="2.3" fill="#124a7c"/>
<line x1="381.00" y1="336.60" x2="394.20" y2="336.60" stroke="#c4173f" stroke-width="1.1"/>
<rect x="385.40" y="334.40" width="4.40" height="4.40" fill="#c8102e"/>
<text x="396.90" y="328.91" font-size="7.6" text-anchor="start" fill="#231f20">WT</text>
<text x="396.90" y="339.91" font-size="7.6" text-anchor="start" fill="#231f20" textLength="32.30" lengthAdjust="spacingAndGlyphs">Mnk1 KO</text>
<text x="289.10" y="372.00" font-size="9.0" text-anchor="middle" fill="#231f20" textLength="53.80" lengthAdjust="spacingAndGlyphs" transform="rotate(-90 289.10 372.00)">Platelet half-life</text>
</svg>
</body></html>
